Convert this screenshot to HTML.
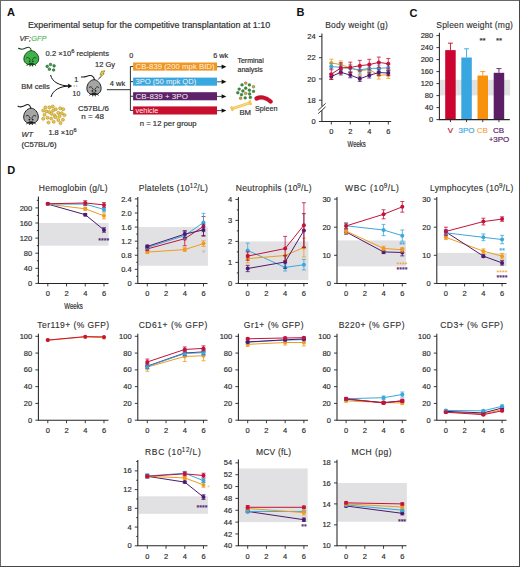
<!DOCTYPE html>
<html><head><meta charset="utf-8"><style>
html,body{margin:0;padding:0;background:#fff;width:520px;height:567px;overflow:hidden}
svg{display:block;font-family:"Liberation Sans",sans-serif}
</style></head><body>
<svg width="520" height="567" viewBox="0 0 520 567" font-family="Liberation Sans, sans-serif">
<rect x="0" y="0" width="520" height="567" fill="#fff"/>
<text x="7.00" y="16.30" font-size="11.0" fill="#111" font-weight="bold"  xml:space="preserve">A</text>
<text x="296.50" y="16.40" font-size="11.0" fill="#111" font-weight="bold"  xml:space="preserve">B</text>
<text x="409.60" y="16.50" font-size="11.0" fill="#111" font-weight="bold"  xml:space="preserve">C</text>
<text x="7.20" y="174.30" font-size="11.0" fill="#111" font-weight="bold"  xml:space="preserve">D</text>
<text x="27.90" y="28.40" font-size="8.9" fill="#2e2e2e" stroke="#2e2e2e" stroke-width="0.18" textLength="242.30" lengthAdjust="spacingAndGlyphs"  xml:space="preserve">Experimental setup for the competitive transplantation at 1:10</text>
<text x="19.40" y="40.70" font-size="7.6" fill="#2e2e2e" stroke="#2e2e2e" stroke-width="0.18" textLength="11.60" lengthAdjust="spacingAndGlyphs" font-style="italic"  xml:space="preserve">VF;</text>
<text x="31.20" y="40.70" font-size="7.6" fill="#5cb85c" stroke="#5cb85c" stroke-width="0.18" textLength="15.20" lengthAdjust="spacingAndGlyphs" font-style="italic"  xml:space="preserve">GFP</text>
<g transform="translate(31.3,57.8)">
<path d="M-12.8,-9.5 C-10,-8 -7.5,-8.5 -5,-10 C-2.5,-11 -0.5,-10.5 0,-7" fill="none" stroke="#15451a" stroke-width="1.05" stroke-linecap="round"/>
<path d="M0,-7.1 C3.7,-7.1 7.4,-3.195 7.4,1.065 C7.4,4.97 4.44,7.1 0,7.1 C-4.44,7.1 -7.4,4.97 -7.4,1.065 C-7.4,-3.195 -3.7,-7.1 0,-7.1Z" fill="#3fb34a" stroke="#15451a" stroke-width="1"/>
<path d="M-5.18,0.355 q2.59,-2.13 4.44,2.13 M5.18,0.355 q-2.59,-2.13 -4.44,2.13" stroke="#15451a" stroke-width="1.0" fill="none" opacity="0.85"/>
<ellipse cx="0" cy="6.034999999999999" rx="2.59" ry="1.0" fill="#15451a"/>
<circle cx="-1.6280000000000001" cy="3.55" r="0.9" fill="#15451a"/><circle cx="1.6280000000000001" cy="3.55" r="0.9" fill="#15451a"/>
<path d="M-3.33,6.39 l-1.2,1.6 M-1.11,7.1 l-0.3,1.6 M1.11,7.1 l0.3,1.6 M3.33,6.39 l1.2,1.6 M-2.9600000000000004,6.532 H2.9600000000000004" stroke="#15451a" stroke-width="1" fill="none"/>
</g>
<circle cx="50.5" cy="64.5" r="1.3" fill="#3f9f4a" stroke="#1c5a24" stroke-width="0.6"/>
<circle cx="47.2" cy="66.4" r="1.3" fill="#3f9f4a" stroke="#1c5a24" stroke-width="0.6"/>
<circle cx="54.1" cy="65.9" r="1.3" fill="#3f9f4a" stroke="#1c5a24" stroke-width="0.6"/>
<circle cx="49.4" cy="69.2" r="1.3" fill="#3f9f4a" stroke="#1c5a24" stroke-width="0.6"/>
<circle cx="53.6" cy="70.0" r="1.3" fill="#3f9f4a" stroke="#1c5a24" stroke-width="0.6"/>
<text x="45.60" y="55.60" font-size="7.6" fill="#2e2e2e" stroke="#2e2e2e" stroke-width="0.18" textLength="25.59" lengthAdjust="spacingAndGlyphs"  xml:space="preserve">0.2 ×10</text>
<text x="71.19" y="53.09" font-size="5.62" fill="#2e2e2e" stroke="#2e2e2e" stroke-width="0.18" textLength="3.13" lengthAdjust="spacingAndGlyphs"  xml:space="preserve">6</text>
<text x="74.33" y="55.60" font-size="7.6" fill="#2e2e2e" stroke="#2e2e2e" stroke-width="0.18" textLength="34.67" lengthAdjust="spacingAndGlyphs"  xml:space="preserve"> recipients</text>
<text x="21.20" y="89.20" font-size="7.6" fill="#2e2e2e" stroke="#2e2e2e" stroke-width="0.18" textLength="28.60" lengthAdjust="spacingAndGlyphs"  xml:space="preserve">BM cells</text>
<path d="M50.6,75 C52,82 60,86 69.5,86 M51,97 C53,90 60,86.2 69.5,86" fill="none" stroke="#111" stroke-width="1"/>
<path d="M72.2,86 L67.8,83.6 L68.6,86 L67.8,88.4Z" fill="#111"/>
<text x="76.30" y="82.30" font-size="7.2" fill="#2e2e2e" stroke="#2e2e2e" stroke-width="0.18" text-anchor="middle"  xml:space="preserve">1</text>
<path d="M73.5,86H78.5" stroke="#666" stroke-width="0.8" stroke-dasharray="1.3,1.2"/>
<text x="76.40" y="95.80" font-size="7.2" fill="#2e2e2e" stroke="#2e2e2e" stroke-width="0.18" text-anchor="middle" textLength="7.60" lengthAdjust="spacingAndGlyphs"  xml:space="preserve">10</text>
<g transform="translate(94.0,87.2)">
<path d="M-12.6,-10.3 C-10,-9.5 -7.5,-11 -4.5,-11.7 C-2,-12 -0.2,-10.5 0.5,-7.5" fill="none" stroke="#1e1e1e" stroke-width="1.05" stroke-linecap="round"/>
<path d="M0,-7.5 C3.55,-7.5 7.1,-3.375 7.1,1.125 C7.1,5.25 4.26,7.5 0,7.5 C-4.26,7.5 -7.1,5.25 -7.1,1.125 C-7.1,-3.375 -3.55,-7.5 0,-7.5Z" fill="#a6a6a6" stroke="#1e1e1e" stroke-width="1"/>
<path d="M-4.97,0.375 q2.485,-2.25 4.26,2.25 M4.97,0.375 q-2.485,-2.25 -4.26,2.25" stroke="#1e1e1e" stroke-width="1.0" fill="none" opacity="0.85"/>
<ellipse cx="0" cy="6.375" rx="2.485" ry="1.0" fill="#1e1e1e"/>
<circle cx="-1.5619999999999998" cy="3.75" r="0.9" fill="#1e1e1e"/><circle cx="1.5619999999999998" cy="3.75" r="0.9" fill="#1e1e1e"/>
<path d="M-3.195,6.75 l-1.2,1.6 M-1.065,7.5 l-0.3,1.6 M1.065,7.5 l0.3,1.6 M3.195,6.75 l1.2,1.6 M-2.84,6.9 H2.84" stroke="#1e1e1e" stroke-width="1" fill="none"/>
</g>
<text x="95.00" y="66.90" font-size="7.6" fill="#2e2e2e" stroke="#2e2e2e" stroke-width="0.18" textLength="20.00" lengthAdjust="spacingAndGlyphs"  xml:space="preserve">12 Gy</text>
<path d="M101.5,71.2 L105,70.8 L103,73.6 L104.3,73.6 L100.2,77.6 L101.4,74.8 L100,74.8Z" fill="#e6cb4a" stroke="#6a5a10" stroke-width="0.5"/>
<path d="M100.6,76.8 L98.2,79.6" stroke="#333" stroke-width="0.9"/>
<g transform="translate(31.0,115.8)">
<path d="M-13,-9.5 C-10,-8 -7,-9.5 -4.5,-11 C-2.5,-12 -0.8,-10.5 0,-7.5" fill="none" stroke="#1e1e1e" stroke-width="1.05" stroke-linecap="round"/>
<path d="M0,-7.6 C3.65,-7.6 7.3,-3.42 7.3,1.14 C7.3,5.319999999999999 4.38,7.6 0,7.6 C-4.38,7.6 -7.3,5.319999999999999 -7.3,1.14 C-7.3,-3.42 -3.65,-7.6 0,-7.6Z" fill="#a6a6a6" stroke="#1e1e1e" stroke-width="1"/>
<path d="M-5.109999999999999,0.38 q2.5549999999999997,-2.28 4.38,2.28 M5.109999999999999,0.38 q-2.5549999999999997,-2.28 -4.38,2.28" stroke="#1e1e1e" stroke-width="1.0" fill="none" opacity="0.85"/>
<ellipse cx="0" cy="6.46" rx="2.5549999999999997" ry="1.0" fill="#1e1e1e"/>
<circle cx="-1.6059999999999999" cy="3.8" r="0.9" fill="#1e1e1e"/><circle cx="1.6059999999999999" cy="3.8" r="0.9" fill="#1e1e1e"/>
<path d="M-3.285,6.84 l-1.2,1.6 M-1.095,7.6 l-0.3,1.6 M1.095,7.6 l0.3,1.6 M3.285,6.84 l1.2,1.6 M-2.92,6.992 H2.92" stroke="#1e1e1e" stroke-width="1" fill="none"/>
</g>
<circle cx="45.4" cy="107.4" r="1.55" fill="#ebc84c" stroke="#a88a22" stroke-width="0.55"/>
<circle cx="49.4" cy="107.4" r="1.55" fill="#ebc84c" stroke="#a88a22" stroke-width="0.55"/>
<circle cx="52.8" cy="106.5" r="1.55" fill="#ebc84c" stroke="#a88a22" stroke-width="0.55"/>
<circle cx="55.8" cy="109.2" r="1.55" fill="#ebc84c" stroke="#a88a22" stroke-width="0.55"/>
<circle cx="60.2" cy="108.3" r="1.55" fill="#ebc84c" stroke="#a88a22" stroke-width="0.55"/>
<circle cx="63.2" cy="109.2" r="1.55" fill="#ebc84c" stroke="#a88a22" stroke-width="0.55"/>
<circle cx="43.2" cy="110.5" r="1.55" fill="#ebc84c" stroke="#a88a22" stroke-width="0.55"/>
<circle cx="46.6" cy="111.4" r="1.55" fill="#ebc84c" stroke="#a88a22" stroke-width="0.55"/>
<circle cx="49.4" cy="112" r="1.55" fill="#ebc84c" stroke="#a88a22" stroke-width="0.55"/>
<circle cx="53.1" cy="110.5" r="1.55" fill="#ebc84c" stroke="#a88a22" stroke-width="0.55"/>
<circle cx="51.5" cy="113.8" r="1.55" fill="#ebc84c" stroke="#a88a22" stroke-width="0.55"/>
<circle cx="58.3" cy="112.9" r="1.55" fill="#ebc84c" stroke="#a88a22" stroke-width="0.55"/>
<circle cx="61.7" cy="113.2" r="1.55" fill="#ebc84c" stroke="#a88a22" stroke-width="0.55"/>
<circle cx="64.5" cy="115.1" r="1.55" fill="#ebc84c" stroke="#a88a22" stroke-width="0.55"/>
<circle cx="44.5" cy="114.8" r="1.55" fill="#ebc84c" stroke="#a88a22" stroke-width="0.55"/>
<circle cx="54.6" cy="115.4" r="1.55" fill="#ebc84c" stroke="#a88a22" stroke-width="0.55"/>
<circle cx="59.5" cy="116.3" r="1.55" fill="#ebc84c" stroke="#a88a22" stroke-width="0.55"/>
<circle cx="47.5" cy="117.8" r="1.55" fill="#ebc84c" stroke="#a88a22" stroke-width="0.55"/>
<circle cx="51.2" cy="118.5" r="1.55" fill="#ebc84c" stroke="#a88a22" stroke-width="0.55"/>
<circle cx="55.5" cy="117.2" r="1.55" fill="#ebc84c" stroke="#a88a22" stroke-width="0.55"/>
<circle cx="43.2" cy="118.8" r="1.55" fill="#ebc84c" stroke="#a88a22" stroke-width="0.55"/>
<circle cx="58.3" cy="120" r="1.55" fill="#ebc84c" stroke="#a88a22" stroke-width="0.55"/>
<circle cx="62.9" cy="119.7" r="1.55" fill="#ebc84c" stroke="#a88a22" stroke-width="0.55"/>
<circle cx="48.5" cy="122.5" r="1.55" fill="#ebc84c" stroke="#a88a22" stroke-width="0.55"/>
<circle cx="53.7" cy="121.8" r="1.55" fill="#ebc84c" stroke="#a88a22" stroke-width="0.55"/>
<circle cx="60.5" cy="123.1" r="1.55" fill="#ebc84c" stroke="#a88a22" stroke-width="0.55"/>
<text x="48.40" y="134.90" font-size="7.6" fill="#2e2e2e" stroke="#2e2e2e" stroke-width="0.18" textLength="25.13" lengthAdjust="spacingAndGlyphs"  xml:space="preserve">1.8 ×10</text>
<text x="73.53" y="132.39" font-size="5.62" fill="#2e2e2e" stroke="#2e2e2e" stroke-width="0.18" textLength="3.07" lengthAdjust="spacingAndGlyphs"  xml:space="preserve">6</text>
<text x="21.40" y="136.50" font-size="7.6" fill="#2e2e2e" stroke="#2e2e2e" stroke-width="0.18" textLength="11.60" lengthAdjust="spacingAndGlyphs" font-style="italic"  xml:space="preserve">WT</text>
<text x="21.40" y="146.60" font-size="7.6" fill="#2e2e2e" stroke="#2e2e2e" stroke-width="0.18" textLength="35.20" lengthAdjust="spacingAndGlyphs"  xml:space="preserve">(C57BL/6)</text>
<text x="78.00" y="111.00" font-size="7.6" fill="#2e2e2e" stroke="#2e2e2e" stroke-width="0.18" textLength="30.80" lengthAdjust="spacingAndGlyphs"  xml:space="preserve">C57BL/6</text>
<text x="81.30" y="119.30" font-size="7.6" fill="#2e2e2e" stroke="#2e2e2e" stroke-width="0.18" textLength="22.60" lengthAdjust="spacingAndGlyphs"  xml:space="preserve">n = 48</text>
<text x="109.80" y="85.60" font-size="7.6" fill="#2e2e2e" stroke="#2e2e2e" stroke-width="0.18" textLength="15.40" lengthAdjust="spacingAndGlyphs"  xml:space="preserve">4 wk</text>
<path d="M106.9,89.7H130.4M130.4,66.5V110.7" stroke="#333" stroke-width="1" fill="none"/>
<text x="131.30" y="58.20" font-size="7.2" fill="#2e2e2e" stroke="#2e2e2e" stroke-width="0.18" text-anchor="middle"  xml:space="preserve">0</text>
<text x="213.20" y="58.20" font-size="7.6" fill="#2e2e2e" stroke="#2e2e2e" stroke-width="0.18" textLength="15.00" lengthAdjust="spacingAndGlyphs"  xml:space="preserve">6 wk</text>
<rect x="133.1" y="62.5" width="83.9" height="8.1" fill="#f0961e"/>
<path d="M130.4,66.55H133.1" stroke="#333" stroke-width="1"/>
<text x="135.60" y="69.10" font-size="7.6" fill="#fbf3ee" textLength="79.00" lengthAdjust="spacingAndGlyphs"  xml:space="preserve">CB-839 (200 mpk BID)</text>
<path d="M217,66.7H222.5" stroke="#333" stroke-width="0.9"/>
<path d="M226.4,66.7 L221.6,64.5 L221.6,68.9Z" fill="#111"/>
<rect x="133.1" y="77.6" width="83.9" height="8.1" fill="#3aa8e0"/>
<path d="M130.4,81.64999999999999H133.1" stroke="#333" stroke-width="1"/>
<text x="135.60" y="84.20" font-size="7.6" fill="#fbf3ee" textLength="60.60" lengthAdjust="spacingAndGlyphs"  xml:space="preserve">3PO (50 mpk QD)</text>
<path d="M217,81.8H222.5" stroke="#333" stroke-width="0.9"/>
<path d="M226.4,81.8 L221.6,79.6 L221.6,84.0Z" fill="#111"/>
<rect x="133.1" y="92.2" width="83.9" height="8.1" fill="#5d226a"/>
<path d="M130.4,96.25H133.1" stroke="#333" stroke-width="1"/>
<text x="135.60" y="98.80" font-size="7.6" fill="#fbf3ee" textLength="52.30" lengthAdjust="spacingAndGlyphs"  xml:space="preserve">CB-839 + 3PO</text>
<path d="M217,96.4H222.5" stroke="#333" stroke-width="0.9"/>
<path d="M226.4,96.4 L221.6,94.2 L221.6,98.60000000000001Z" fill="#111"/>
<rect x="133.1" y="106.4" width="83.9" height="8.1" fill="#c80f2e"/>
<path d="M130.4,110.45H133.1" stroke="#333" stroke-width="1"/>
<text x="135.60" y="113.00" font-size="7.6" fill="#fbf3ee" textLength="22.80" lengthAdjust="spacingAndGlyphs"  xml:space="preserve">vehicle</text>
<path d="M217,110.60000000000001H222.5" stroke="#333" stroke-width="0.9"/>
<path d="M226.4,110.60000000000001 L221.6,108.4 L221.6,112.80000000000001Z" fill="#111"/>
<text x="139.80" y="125.60" font-size="7.6" fill="#2e2e2e" stroke="#2e2e2e" stroke-width="0.18" textLength="56.80" lengthAdjust="spacingAndGlyphs"  xml:space="preserve">n = 12 per group</text>
<text x="237.50" y="62.90" font-size="7.2" fill="#2e2e2e" stroke="#2e2e2e" stroke-width="0.18" textLength="26.30" lengthAdjust="spacingAndGlyphs"  xml:space="preserve">Terminal</text>
<text x="237.50" y="71.90" font-size="7.2" fill="#2e2e2e" stroke="#2e2e2e" stroke-width="0.18" textLength="25.20" lengthAdjust="spacingAndGlyphs"  xml:space="preserve">analysis</text>
<circle cx="245.7" cy="83.1" r="1.45" fill="#d29a48" stroke="#2c5c2c" stroke-width="0.3"/>
<circle cx="242" cy="84.9" r="1.45" fill="#3b8c3b" stroke="#2c5c2c" stroke-width="0.3"/>
<circle cx="249.4" cy="84.9" r="1.45" fill="#3b8c3b" stroke="#2c5c2c" stroke-width="0.3"/>
<circle cx="253.5" cy="86.8" r="1.45" fill="#c9a444" stroke="#2c5c2c" stroke-width="0.3"/>
<circle cx="239.2" cy="89.1" r="1.45" fill="#3b8c3b" stroke="#2c5c2c" stroke-width="0.3"/>
<circle cx="245.7" cy="88.2" r="1.45" fill="#3b8c3b" stroke="#2c5c2c" stroke-width="0.3"/>
<circle cx="249.4" cy="90.2" r="1.45" fill="#3b8c3b" stroke="#2c5c2c" stroke-width="0.3"/>
<circle cx="242.9" cy="91.0" r="1.45" fill="#3b8c3b" stroke="#2c5c2c" stroke-width="0.3"/>
<circle cx="253.5" cy="91.4" r="1.45" fill="#3b8c3b" stroke="#2c5c2c" stroke-width="0.3"/>
<circle cx="237.8" cy="92.8" r="1.45" fill="#3b8c3b" stroke="#2c5c2c" stroke-width="0.3"/>
<circle cx="241.5" cy="94.7" r="1.45" fill="#3b8c3b" stroke="#2c5c2c" stroke-width="0.3"/>
<circle cx="245.7" cy="93.4" r="1.45" fill="#c9a444" stroke="#2c5c2c" stroke-width="0.3"/>
<circle cx="249.6" cy="94.0" r="1.45" fill="#3b8c3b" stroke="#2c5c2c" stroke-width="0.3"/>
<circle cx="240.6" cy="98.3" r="1.45" fill="#d29a48" stroke="#2c5c2c" stroke-width="0.3"/>
<circle cx="245.2" cy="97.9" r="1.45" fill="#3b8c3b" stroke="#2c5c2c" stroke-width="0.3"/>
<circle cx="250.3" cy="97.4" r="1.45" fill="#3b8c3b" stroke="#2c5c2c" stroke-width="0.3"/>
<path d="M232.2,108.6 L250.0,102.8" stroke="#f3c65a" stroke-width="2.8" stroke-linecap="round"/>
<circle cx="231.6" cy="107.6" r="1.4" fill="#f3c65a"/><circle cx="232.4" cy="109.8" r="1.4" fill="#f3c65a"/>
<circle cx="249.8" cy="101.7" r="1.4" fill="#f3c65a"/><circle cx="250.6" cy="103.9" r="1.4" fill="#f3c65a"/>
<path d="M233.5,108.2 L248.8,103.2" stroke="#f8dc90" stroke-width="0.9"/>
<path d="M256.6,98.4 C260,96.6 265.5,96.8 270.6,101.5" stroke="#c8102e" stroke-width="4.3" stroke-linecap="round" fill="none"/>
<path d="M257,100.4 C260.5,99 265.5,99.2 269.8,103" stroke="#9e0a22" stroke-width="0.7" fill="none" opacity="0.5"/>
<text x="239.40" y="115.30" font-size="7.6" fill="#2e2e2e" stroke="#2e2e2e" stroke-width="0.18" textLength="11.60" lengthAdjust="spacingAndGlyphs"  xml:space="preserve">BM</text>
<text x="255.00" y="110.60" font-size="7.6" fill="#2e2e2e" stroke="#2e2e2e" stroke-width="0.18" textLength="22.40" lengthAdjust="spacingAndGlyphs"  xml:space="preserve">Spleen</text>
<path d="M331.30,62.91 L340.80,64.61 L350.30,68.01 L359.80,70.87 L369.30,69.39 L378.80,75.34 L388.30,74.70" fill="none" stroke="#f29a1c" stroke-width="1"/>
<path d="M331.30,66.62 L340.80,67.26 L350.30,68.33 L359.80,69.92 L369.30,68.33 L378.80,68.33 L388.30,67.79" fill="none" stroke="#3aa8dc" stroke-width="1"/>
<path d="M331.30,76.51 L340.80,72.26 L350.30,75.12 L359.80,78.74 L369.30,75.34 L378.80,72.57 L388.30,73.00" fill="none" stroke="#4b1a6e" stroke-width="1"/>
<path d="M331.30,74.17 L340.80,68.01 L350.30,67.48 L359.80,65.67 L369.30,64.61 L378.80,62.38 L388.30,63.76" fill="none" stroke="#c4123a" stroke-width="1"/>
<path d="M331.30,59.19V66.62M329.30,59.19h4M329.30,66.62h4" stroke="#f29a1c" stroke-width="0.8" fill="none"/>
<circle cx="331.30" cy="62.91" r="2" fill="#f29a1c"/>
<path d="M340.80,60.89V68.33M338.80,60.89h4M338.80,68.33h4" stroke="#f29a1c" stroke-width="0.8" fill="none"/>
<circle cx="340.80" cy="64.61" r="2" fill="#f29a1c"/>
<path d="M350.30,64.29V71.73M348.30,64.29h4M348.30,71.73h4" stroke="#f29a1c" stroke-width="0.8" fill="none"/>
<circle cx="350.30" cy="68.01" r="2" fill="#f29a1c"/>
<path d="M359.80,67.16V74.59M357.80,67.16h4M357.80,74.59h4" stroke="#f29a1c" stroke-width="0.8" fill="none"/>
<circle cx="359.80" cy="70.87" r="2" fill="#f29a1c"/>
<path d="M369.30,65.67V73.11M367.30,65.67h4M367.30,73.11h4" stroke="#f29a1c" stroke-width="0.8" fill="none"/>
<circle cx="369.30" cy="69.39" r="2" fill="#f29a1c"/>
<path d="M378.80,71.62V79.06M376.80,71.62h4M376.80,79.06h4" stroke="#f29a1c" stroke-width="0.8" fill="none"/>
<circle cx="378.80" cy="75.34" r="2" fill="#f29a1c"/>
<path d="M388.30,70.98V78.42M386.30,70.98h4M386.30,78.42h4" stroke="#f29a1c" stroke-width="0.8" fill="none"/>
<circle cx="388.30" cy="74.70" r="2" fill="#f29a1c"/>
<path d="M331.30,63.44V69.81M329.30,63.44h4M329.30,69.81h4" stroke="#3aa8dc" stroke-width="0.8" fill="none"/>
<circle cx="331.30" cy="66.62" r="2" fill="#3aa8dc"/>
<path d="M340.80,64.07V70.45M338.80,64.07h4M338.80,70.45h4" stroke="#3aa8dc" stroke-width="0.8" fill="none"/>
<circle cx="340.80" cy="67.26" r="2" fill="#3aa8dc"/>
<path d="M350.30,65.14V71.51M348.30,65.14h4M348.30,71.51h4" stroke="#3aa8dc" stroke-width="0.8" fill="none"/>
<circle cx="350.30" cy="68.33" r="2" fill="#3aa8dc"/>
<path d="M359.80,66.73V73.11M357.80,66.73h4M357.80,73.11h4" stroke="#3aa8dc" stroke-width="0.8" fill="none"/>
<circle cx="359.80" cy="69.92" r="2" fill="#3aa8dc"/>
<path d="M369.30,65.14V71.51M367.30,65.14h4M367.30,71.51h4" stroke="#3aa8dc" stroke-width="0.8" fill="none"/>
<circle cx="369.30" cy="68.33" r="2" fill="#3aa8dc"/>
<path d="M378.80,65.14V71.51M376.80,65.14h4M376.80,71.51h4" stroke="#3aa8dc" stroke-width="0.8" fill="none"/>
<circle cx="378.80" cy="68.33" r="2" fill="#3aa8dc"/>
<path d="M388.30,64.61V70.98M386.30,64.61h4M386.30,70.98h4" stroke="#3aa8dc" stroke-width="0.8" fill="none"/>
<circle cx="388.30" cy="67.79" r="2" fill="#3aa8dc"/>
<path d="M331.30,73.85V79.16M329.30,73.85h4M329.30,79.16h4" stroke="#4b1a6e" stroke-width="0.8" fill="none"/>
<circle cx="331.30" cy="76.51" r="2" fill="#4b1a6e"/>
<path d="M340.80,69.60V74.91M338.80,69.60h4M338.80,74.91h4" stroke="#4b1a6e" stroke-width="0.8" fill="none"/>
<circle cx="340.80" cy="72.26" r="2" fill="#4b1a6e"/>
<path d="M350.30,72.47V77.78M348.30,72.47h4M348.30,77.78h4" stroke="#4b1a6e" stroke-width="0.8" fill="none"/>
<circle cx="350.30" cy="75.12" r="2" fill="#4b1a6e"/>
<path d="M359.80,76.08V81.39M357.80,76.08h4M357.80,81.39h4" stroke="#4b1a6e" stroke-width="0.8" fill="none"/>
<circle cx="359.80" cy="78.74" r="2" fill="#4b1a6e"/>
<path d="M369.30,72.68V77.99M367.30,72.68h4M367.30,77.99h4" stroke="#4b1a6e" stroke-width="0.8" fill="none"/>
<circle cx="369.30" cy="75.34" r="2" fill="#4b1a6e"/>
<path d="M378.80,69.92V75.23M376.80,69.92h4M376.80,75.23h4" stroke="#4b1a6e" stroke-width="0.8" fill="none"/>
<circle cx="378.80" cy="72.57" r="2" fill="#4b1a6e"/>
<path d="M388.30,70.34V75.66M386.30,70.34h4M386.30,75.66h4" stroke="#4b1a6e" stroke-width="0.8" fill="none"/>
<circle cx="388.30" cy="73.00" r="2" fill="#4b1a6e"/>
<path d="M331.30,68.86V79.48M329.30,68.86h4M329.30,79.48h4" stroke="#c4123a" stroke-width="0.8" fill="none"/>
<circle cx="331.30" cy="74.17" r="2" fill="#c4123a"/>
<path d="M340.80,62.69V73.32M338.80,62.69h4M338.80,73.32h4" stroke="#c4123a" stroke-width="0.8" fill="none"/>
<circle cx="340.80" cy="68.01" r="2" fill="#c4123a"/>
<path d="M350.30,62.16V72.79M348.30,62.16h4M348.30,72.79h4" stroke="#c4123a" stroke-width="0.8" fill="none"/>
<circle cx="350.30" cy="67.48" r="2" fill="#c4123a"/>
<path d="M359.80,60.36V70.98M357.80,60.36h4M357.80,70.98h4" stroke="#c4123a" stroke-width="0.8" fill="none"/>
<circle cx="359.80" cy="65.67" r="2" fill="#c4123a"/>
<path d="M369.30,59.29V69.92M367.30,59.29h4M367.30,69.92h4" stroke="#c4123a" stroke-width="0.8" fill="none"/>
<circle cx="369.30" cy="64.61" r="2" fill="#c4123a"/>
<path d="M378.80,57.06V67.69M376.80,57.06h4M376.80,67.69h4" stroke="#c4123a" stroke-width="0.8" fill="none"/>
<circle cx="378.80" cy="62.38" r="2" fill="#c4123a"/>
<path d="M388.30,58.44V69.07M386.30,58.44h4M386.30,69.07h4" stroke="#c4123a" stroke-width="0.8" fill="none"/>
<circle cx="388.30" cy="63.76" r="2" fill="#c4123a"/>
<path d="M321.9,33.5V106.5M321.9,110.3V121.5H391.2" fill="none" stroke="#262626" stroke-width="1.05"/>
<path d="M318.2,110.2L325.6,103.4M318.2,113.6L325.6,106.8" stroke="#262626" stroke-width="0.9" fill="none"/>
<text x="315.70" y="102.80" font-size="7.5" fill="#2e2e2e" stroke="#2e2e2e" stroke-width="0.18" text-anchor="end"  xml:space="preserve">18</text>
<text x="315.70" y="81.55" font-size="7.5" fill="#2e2e2e" stroke="#2e2e2e" stroke-width="0.18" text-anchor="end"  xml:space="preserve">20</text>
<text x="315.70" y="60.30" font-size="7.5" fill="#2e2e2e" stroke="#2e2e2e" stroke-width="0.18" text-anchor="end"  xml:space="preserve">22</text>
<text x="315.70" y="39.05" font-size="7.5" fill="#2e2e2e" stroke="#2e2e2e" stroke-width="0.18" text-anchor="end"  xml:space="preserve">24</text>
<text x="315.70" y="124.10" font-size="7.5" fill="#2e2e2e" stroke="#2e2e2e" stroke-width="0.18" text-anchor="end"  xml:space="preserve">0</text>
<text x="331.30" y="134.40" font-size="7.5" fill="#2e2e2e" stroke="#2e2e2e" stroke-width="0.18" text-anchor="middle"  xml:space="preserve">0</text>
<text x="350.30" y="134.40" font-size="7.5" fill="#2e2e2e" stroke="#2e2e2e" stroke-width="0.18" text-anchor="middle"  xml:space="preserve">2</text>
<text x="369.30" y="134.40" font-size="7.5" fill="#2e2e2e" stroke="#2e2e2e" stroke-width="0.18" text-anchor="middle"  xml:space="preserve">4</text>
<text x="388.30" y="134.40" font-size="7.5" fill="#2e2e2e" stroke="#2e2e2e" stroke-width="0.18" text-anchor="middle"  xml:space="preserve">6</text>
<path d="M318.9,100.20H321.9M318.9,78.95H321.9M318.9,57.70H321.9M318.9,36.45H321.9M318.9,121.5H321.9M331.30,121.5v3M350.30,121.5v3M369.30,121.5v3M388.30,121.5v3" stroke="#262626" stroke-width="0.9" fill="none"/>
<text x="325.20" y="28.10" font-size="8.5" fill="#2e2e2e" stroke="#2e2e2e" stroke-width="0.12" textLength="62.60" lengthAdjust="spacing"  xml:space="preserve">Body weight (g)</text>
<text x="347.60" y="146.60" font-size="8.4" fill="#2e2e2e" stroke="#2e2e2e" stroke-width="0.18" textLength="18.20" lengthAdjust="spacingAndGlyphs"  xml:space="preserve">Weeks</text>
<rect x="439.9" y="79.8" width="70.2" height="15.6" fill="#e1e1e3"/>
<rect x="445.2" y="50.12" width="10.5" height="69.48" fill="#cc0530"/>
<path d="M450.45,50.12V43.16M447.95,43.16h5" stroke="#cc0530" stroke-width="0.9" fill="none"/>
<rect x="461.3" y="57.50" width="10.5" height="62.10" fill="#38a6e0"/>
<path d="M466.55,57.50V48.80M464.05,48.80h5" stroke="#38a6e0" stroke-width="0.9" fill="none"/>
<rect x="477.5" y="75.50" width="10.5" height="44.10" fill="#f8920c"/>
<path d="M482.75,75.50V71.60M480.25,71.60h5" stroke="#f8920c" stroke-width="0.9" fill="none"/>
<rect x="493.7" y="72.80" width="10.5" height="46.80" fill="#5c1f66"/>
<path d="M498.95,72.80V68.60M496.45,68.60h5" stroke="#5c1f66" stroke-width="0.9" fill="none"/>
<path d="M439.4,32.7V119.6H509.8" fill="none" stroke="#262626" stroke-width="1.05"/>
<text x="433.20" y="122.20" font-size="7.5" fill="#2e2e2e" stroke="#2e2e2e" stroke-width="0.18" text-anchor="end"  xml:space="preserve">0</text>
<text x="433.20" y="110.20" font-size="7.5" fill="#2e2e2e" stroke="#2e2e2e" stroke-width="0.18" text-anchor="end"  xml:space="preserve">40</text>
<text x="433.20" y="98.20" font-size="7.5" fill="#2e2e2e" stroke="#2e2e2e" stroke-width="0.18" text-anchor="end"  xml:space="preserve">80</text>
<text x="433.20" y="86.20" font-size="7.5" fill="#2e2e2e" stroke="#2e2e2e" stroke-width="0.18" text-anchor="end"  xml:space="preserve">120</text>
<text x="433.20" y="74.20" font-size="7.5" fill="#2e2e2e" stroke="#2e2e2e" stroke-width="0.18" text-anchor="end"  xml:space="preserve">160</text>
<text x="433.20" y="62.20" font-size="7.5" fill="#2e2e2e" stroke="#2e2e2e" stroke-width="0.18" text-anchor="end"  xml:space="preserve">200</text>
<text x="433.20" y="50.20" font-size="7.5" fill="#2e2e2e" stroke="#2e2e2e" stroke-width="0.18" text-anchor="end"  xml:space="preserve">240</text>
<text x="433.20" y="38.20" font-size="7.5" fill="#2e2e2e" stroke="#2e2e2e" stroke-width="0.18" text-anchor="end"  xml:space="preserve">280</text>
<path d="M436.4,119.60H439.4M436.4,107.60H439.4M436.4,95.60H439.4M436.4,83.60H439.4M436.4,71.60H439.4M436.4,59.60H439.4M436.4,47.60H439.4M436.4,35.60H439.4M450.45,119.6v2.5M466.55,119.6v2.5M482.75,119.6v2.5M498.95,119.6v2.5" stroke="#262626" stroke-width="0.9" fill="none"/>
<text x="436.30" y="27.70" font-size="8.5" fill="#2e2e2e" stroke="#2e2e2e" stroke-width="0.12" textLength="76.60" lengthAdjust="spacing"  xml:space="preserve">Spleen weight (mg)</text>
<text x="450.30" y="133.00" font-size="8.0" fill="#c0102a" stroke="#c0102a" stroke-width="0.18" text-anchor="middle"  xml:space="preserve">V</text>
<text x="466.60" y="133.00" font-size="8.0" fill="#3ba8e0" stroke="#3ba8e0" stroke-width="0.18" text-anchor="middle"  xml:space="preserve">3PO</text>
<text x="482.40" y="133.00" font-size="8.0" fill="#f39a1e" text-anchor="middle"  xml:space="preserve">CB</text>
<text x="498.50" y="133.00" font-size="8.0" fill="#5d226a" stroke="#5d226a" stroke-width="0.18" text-anchor="middle"  xml:space="preserve">CB</text>
<text x="499.00" y="142.00" font-size="8.0" fill="#5d226a" stroke="#5d226a" stroke-width="0.18" text-anchor="middle"  xml:space="preserve">+3PO</text>
<text x="482.50" y="42.50" font-size="8" fill="#2e2e2e" stroke="#2e2e2e" stroke-width="0.18" text-anchor="middle"  xml:space="preserve">**</text>
<text x="499.00" y="42.50" font-size="8" fill="#2e2e2e" stroke="#2e2e2e" stroke-width="0.18" text-anchor="middle"  xml:space="preserve">**</text>
<rect x="38.90" y="223.00" width="69.70" height="22.65" fill="#e1e1e3"/>
<path d="M47.80,204.12 L85.26,214.69 L103.99,229.98" fill="none" stroke="#4b1a6e" stroke-width="1"/>
<path d="M47.80,204.12 L85.26,208.84 L103.99,215.83" fill="none" stroke="#f29a1c" stroke-width="1"/>
<path d="M47.80,204.12 L85.26,204.12 L103.99,209.41" fill="none" stroke="#3aa8dc" stroke-width="1"/>
<path d="M47.80,203.75 L85.26,202.99 L103.99,204.88" fill="none" stroke="#c4123a" stroke-width="1"/>
<circle cx="47.80" cy="204.12" r="2" fill="#4b1a6e"/>
<path d="M85.26,213.56V215.83M83.26,213.56h4M83.26,215.83h4" stroke="#4b1a6e" stroke-width="0.8" fill="none"/>
<circle cx="85.26" cy="214.69" r="2" fill="#4b1a6e"/>
<path d="M103.99,227.72V232.25M101.99,227.72h4M101.99,232.25h4" stroke="#4b1a6e" stroke-width="0.8" fill="none"/>
<circle cx="103.99" cy="229.98" r="2" fill="#4b1a6e"/>
<circle cx="47.80" cy="204.12" r="2" fill="#f29a1c"/>
<path d="M85.26,207.33V210.35M83.26,207.33h4M83.26,210.35h4" stroke="#f29a1c" stroke-width="0.8" fill="none"/>
<circle cx="85.26" cy="208.84" r="2" fill="#f29a1c"/>
<path d="M103.99,212.81V218.85M101.99,212.81h4M101.99,218.85h4" stroke="#f29a1c" stroke-width="0.8" fill="none"/>
<circle cx="103.99" cy="215.83" r="2" fill="#f29a1c"/>
<circle cx="47.80" cy="204.12" r="2" fill="#3aa8dc"/>
<path d="M85.26,202.61V205.63M83.26,202.61h4M83.26,205.63h4" stroke="#3aa8dc" stroke-width="0.8" fill="none"/>
<circle cx="85.26" cy="204.12" r="2" fill="#3aa8dc"/>
<path d="M103.99,207.52V211.30M101.99,207.52h4M101.99,211.30h4" stroke="#3aa8dc" stroke-width="0.8" fill="none"/>
<circle cx="103.99" cy="209.41" r="2" fill="#3aa8dc"/>
<path d="M47.80,202.99V204.50M45.80,202.99h4M45.80,204.50h4" stroke="#c4123a" stroke-width="0.8" fill="none"/>
<circle cx="47.80" cy="203.75" r="2" fill="#c4123a"/>
<path d="M85.26,200.73V205.26M83.26,200.73h4M83.26,205.26h4" stroke="#c4123a" stroke-width="0.8" fill="none"/>
<circle cx="85.26" cy="202.99" r="2" fill="#c4123a"/>
<path d="M103.99,202.61V207.14M101.99,202.61h4M101.99,207.14h4" stroke="#c4123a" stroke-width="0.8" fill="none"/>
<circle cx="103.99" cy="204.88" r="2" fill="#c4123a"/>
<path d="M38.40,196.60V283.40H108.50" fill="none" stroke="#262626" stroke-width="1.05"/>
<text x="32.20" y="286.00" font-size="7.5" fill="#2e2e2e" stroke="#2e2e2e" stroke-width="0.18" text-anchor="end"  xml:space="preserve">0</text>
<text x="32.20" y="270.90" font-size="7.5" fill="#2e2e2e" stroke="#2e2e2e" stroke-width="0.18" text-anchor="end"  xml:space="preserve">40</text>
<text x="32.20" y="255.80" font-size="7.5" fill="#2e2e2e" stroke="#2e2e2e" stroke-width="0.18" text-anchor="end"  xml:space="preserve">80</text>
<text x="32.20" y="240.70" font-size="7.5" fill="#2e2e2e" stroke="#2e2e2e" stroke-width="0.18" text-anchor="end"  xml:space="preserve">120</text>
<text x="32.20" y="225.60" font-size="7.5" fill="#2e2e2e" stroke="#2e2e2e" stroke-width="0.18" text-anchor="end"  xml:space="preserve">160</text>
<text x="32.20" y="210.50" font-size="7.5" fill="#2e2e2e" stroke="#2e2e2e" stroke-width="0.18" text-anchor="end"  xml:space="preserve">200</text>
<text x="47.80" y="296.30" font-size="7.5" fill="#2e2e2e" stroke="#2e2e2e" stroke-width="0.18" text-anchor="middle"  xml:space="preserve">0</text>
<text x="66.53" y="296.30" font-size="7.5" fill="#2e2e2e" stroke="#2e2e2e" stroke-width="0.18" text-anchor="middle"  xml:space="preserve">2</text>
<text x="85.26" y="296.30" font-size="7.5" fill="#2e2e2e" stroke="#2e2e2e" stroke-width="0.18" text-anchor="middle"  xml:space="preserve">4</text>
<text x="103.99" y="296.30" font-size="7.5" fill="#2e2e2e" stroke="#2e2e2e" stroke-width="0.18" text-anchor="middle"  xml:space="preserve">6</text>
<path d="M35.40,283.40H38.4M35.40,268.30H38.4M35.40,253.20H38.4M35.40,238.10H38.4M35.40,223.00H38.4M35.40,207.90H38.4M36.80,275.85H38.4M36.80,260.75H38.4M36.80,245.65H38.4M36.80,230.55H38.4M36.80,215.45H38.4M36.80,200.35H38.4M47.80,283.40v3M66.53,283.40v3M85.26,283.40v3M103.99,283.40v3" stroke="#262626" stroke-width="0.9" fill="none"/>
<text x="38.80" y="191.00" font-size="8.5" fill="#2e2e2e" stroke="#2e2e2e" stroke-width="0.12" textLength="68.80" lengthAdjust="spacing"  xml:space="preserve">Hemoglobin (g/L)</text>
<text x="103.80" y="242.60" font-size="7" fill="#4b1a6e" stroke="#4b1a6e" stroke-width="0.18" text-anchor="middle"  xml:space="preserve">****</text>
<rect x="138.30" y="227.08" width="69.60" height="38.72" fill="#e1e1e3"/>
<path d="M147.30,252.07 L184.76,249.61 L203.49,243.62" fill="none" stroke="#f29a1c" stroke-width="1"/>
<path d="M147.30,248.90 L184.76,238.70 L203.49,226.38" fill="none" stroke="#c4123a" stroke-width="1"/>
<path d="M147.30,247.50 L184.76,235.53 L203.49,222.50" fill="none" stroke="#3aa8dc" stroke-width="1"/>
<path d="M147.30,246.44 L184.76,234.12 L203.49,229.90" fill="none" stroke="#4b1a6e" stroke-width="1"/>
<path d="M147.30,250.66V253.48M145.30,250.66h4M145.30,253.48h4" stroke="#f29a1c" stroke-width="0.8" fill="none"/>
<circle cx="147.30" cy="252.07" r="2" fill="#f29a1c"/>
<path d="M184.76,247.85V251.37M182.76,247.85h4M182.76,251.37h4" stroke="#f29a1c" stroke-width="0.8" fill="none"/>
<circle cx="184.76" cy="249.61" r="2" fill="#f29a1c"/>
<path d="M203.49,240.81V246.44M201.49,240.81h4M201.49,246.44h4" stroke="#f29a1c" stroke-width="0.8" fill="none"/>
<circle cx="203.49" cy="243.62" r="2" fill="#f29a1c"/>
<path d="M147.30,247.14V250.66M145.30,247.14h4M145.30,250.66h4" stroke="#c4123a" stroke-width="0.8" fill="none"/>
<circle cx="147.30" cy="248.90" r="2" fill="#c4123a"/>
<path d="M184.76,231.66V245.74M182.76,231.66h4M182.76,245.74h4" stroke="#c4123a" stroke-width="0.8" fill="none"/>
<circle cx="184.76" cy="238.70" r="2" fill="#c4123a"/>
<path d="M203.49,216.52V236.23M201.49,216.52h4M201.49,236.23h4" stroke="#c4123a" stroke-width="0.8" fill="none"/>
<circle cx="203.49" cy="226.38" r="2" fill="#c4123a"/>
<path d="M147.30,246.09V248.90M145.30,246.09h4M145.30,248.90h4" stroke="#3aa8dc" stroke-width="0.8" fill="none"/>
<circle cx="147.30" cy="247.50" r="2" fill="#3aa8dc"/>
<path d="M184.76,232.01V239.05M182.76,232.01h4M182.76,239.05h4" stroke="#3aa8dc" stroke-width="0.8" fill="none"/>
<circle cx="184.76" cy="235.53" r="2" fill="#3aa8dc"/>
<path d="M203.49,213.35V231.66M201.49,213.35h4M201.49,231.66h4" stroke="#3aa8dc" stroke-width="0.8" fill="none"/>
<circle cx="203.49" cy="222.50" r="2" fill="#3aa8dc"/>
<path d="M147.30,245.03V247.85M145.30,245.03h4M145.30,247.85h4" stroke="#4b1a6e" stroke-width="0.8" fill="none"/>
<circle cx="147.30" cy="246.44" r="2" fill="#4b1a6e"/>
<path d="M184.76,230.60V237.64M182.76,230.60h4M182.76,237.64h4" stroke="#4b1a6e" stroke-width="0.8" fill="none"/>
<circle cx="184.76" cy="234.12" r="2" fill="#4b1a6e"/>
<path d="M203.49,224.26V235.53M201.49,224.26h4M201.49,235.53h4" stroke="#4b1a6e" stroke-width="0.8" fill="none"/>
<circle cx="203.49" cy="229.90" r="2" fill="#4b1a6e"/>
<path d="M137.80,197.00V283.40H207.50" fill="none" stroke="#262626" stroke-width="1.05"/>
<text x="131.60" y="286.00" font-size="7.5" fill="#2e2e2e" stroke="#2e2e2e" stroke-width="0.18" text-anchor="end"  xml:space="preserve">0</text>
<text x="131.60" y="271.92" font-size="7.5" fill="#2e2e2e" stroke="#2e2e2e" stroke-width="0.18" text-anchor="end"  xml:space="preserve">0.4</text>
<text x="131.60" y="257.84" font-size="7.5" fill="#2e2e2e" stroke="#2e2e2e" stroke-width="0.18" text-anchor="end"  xml:space="preserve">0.8</text>
<text x="131.60" y="243.76" font-size="7.5" fill="#2e2e2e" stroke="#2e2e2e" stroke-width="0.18" text-anchor="end"  xml:space="preserve">1.2</text>
<text x="131.60" y="229.68" font-size="7.5" fill="#2e2e2e" stroke="#2e2e2e" stroke-width="0.18" text-anchor="end"  xml:space="preserve">1.6</text>
<text x="131.60" y="215.60" font-size="7.5" fill="#2e2e2e" stroke="#2e2e2e" stroke-width="0.18" text-anchor="end"  xml:space="preserve">2.0</text>
<text x="131.60" y="201.52" font-size="7.5" fill="#2e2e2e" stroke="#2e2e2e" stroke-width="0.18" text-anchor="end"  xml:space="preserve">2.4</text>
<text x="147.30" y="296.30" font-size="7.5" fill="#2e2e2e" stroke="#2e2e2e" stroke-width="0.18" text-anchor="middle"  xml:space="preserve">0</text>
<text x="166.03" y="296.30" font-size="7.5" fill="#2e2e2e" stroke="#2e2e2e" stroke-width="0.18" text-anchor="middle"  xml:space="preserve">2</text>
<text x="184.76" y="296.30" font-size="7.5" fill="#2e2e2e" stroke="#2e2e2e" stroke-width="0.18" text-anchor="middle"  xml:space="preserve">4</text>
<text x="203.49" y="296.30" font-size="7.5" fill="#2e2e2e" stroke="#2e2e2e" stroke-width="0.18" text-anchor="middle"  xml:space="preserve">6</text>
<path d="M134.80,283.40H137.8M134.80,269.32H137.8M134.80,255.24H137.8M134.80,241.16H137.8M134.80,227.08H137.8M134.80,213.00H137.8M134.80,198.92H137.8M136.20,276.36H137.8M136.20,262.28H137.8M136.20,248.20H137.8M136.20,234.12H137.8M136.20,220.04H137.8M136.20,205.96H137.8M147.30,283.40v3M166.03,283.40v3M184.76,283.40v3M203.49,283.40v3" stroke="#262626" stroke-width="0.9" fill="none"/>
<text x="138.70" y="190.70" font-size="8.5" fill="#2e2e2e" stroke="#2e2e2e" stroke-width="0.12" textLength="50.96" lengthAdjust="spacing"  xml:space="preserve">Platelets (10</text>
<text x="189.66" y="187.89" font-size="6.29" fill="#2e2e2e" stroke="#2e2e2e" stroke-width="0.12" textLength="7.55" lengthAdjust="spacing"  xml:space="preserve">12</text>
<text x="197.20" y="190.70" font-size="8.5" fill="#2e2e2e" stroke="#2e2e2e" stroke-width="0.12" textLength="10.70" lengthAdjust="spacing"  xml:space="preserve">/L)</text>
<text x="203.60" y="255.40" font-size="7" fill="#bbbbbb" stroke="#bbbbbb" stroke-width="0.18" text-anchor="middle"  xml:space="preserve">*</text>
<rect x="238.90" y="241.40" width="69.50" height="38.64" fill="#e1e1e3"/>
<path d="M247.70,250.43 L285.16,267.44 L303.89,264.71" fill="none" stroke="#3aa8dc" stroke-width="1"/>
<path d="M247.70,258.62 L285.16,255.47 L303.89,247.49" fill="none" stroke="#f29a1c" stroke-width="1"/>
<path d="M247.70,268.49 L285.16,261.98 L303.89,230.48" fill="none" stroke="#4b1a6e" stroke-width="1"/>
<path d="M247.70,256.10 L285.16,248.54 L303.89,225.23" fill="none" stroke="#c4123a" stroke-width="1"/>
<path d="M247.70,243.08V257.78M245.70,243.08h4M245.70,257.78h4" stroke="#3aa8dc" stroke-width="0.8" fill="none"/>
<circle cx="247.70" cy="250.43" r="2" fill="#3aa8dc"/>
<path d="M285.16,263.87V271.01M283.16,263.87h4M283.16,271.01h4" stroke="#3aa8dc" stroke-width="0.8" fill="none"/>
<circle cx="285.16" cy="267.44" r="2" fill="#3aa8dc"/>
<path d="M303.89,259.46V269.96M301.89,259.46h4M301.89,269.96h4" stroke="#3aa8dc" stroke-width="0.8" fill="none"/>
<circle cx="303.89" cy="264.71" r="2" fill="#3aa8dc"/>
<path d="M247.70,254.42V262.82M245.70,254.42h4M245.70,262.82h4" stroke="#f29a1c" stroke-width="0.8" fill="none"/>
<circle cx="247.70" cy="258.62" r="2" fill="#f29a1c"/>
<path d="M285.16,249.17V261.77M283.16,249.17h4M283.16,261.77h4" stroke="#f29a1c" stroke-width="0.8" fill="none"/>
<circle cx="285.16" cy="255.47" r="2" fill="#f29a1c"/>
<path d="M303.89,238.04V256.94M301.89,238.04h4M301.89,256.94h4" stroke="#f29a1c" stroke-width="0.8" fill="none"/>
<circle cx="303.89" cy="247.49" r="2" fill="#f29a1c"/>
<path d="M247.70,265.34V271.64M245.70,265.34h4M245.70,271.64h4" stroke="#4b1a6e" stroke-width="0.8" fill="none"/>
<circle cx="247.70" cy="268.49" r="2" fill="#4b1a6e"/>
<path d="M285.16,255.68V268.28M283.16,255.68h4M283.16,268.28h4" stroke="#4b1a6e" stroke-width="0.8" fill="none"/>
<circle cx="285.16" cy="261.98" r="2" fill="#4b1a6e"/>
<path d="M303.89,213.68V247.28M301.89,213.68h4M301.89,247.28h4" stroke="#4b1a6e" stroke-width="0.8" fill="none"/>
<circle cx="303.89" cy="230.48" r="2" fill="#4b1a6e"/>
<path d="M247.70,251.90V260.30M245.70,251.90h4M245.70,260.30h4" stroke="#c4123a" stroke-width="0.8" fill="none"/>
<circle cx="247.70" cy="256.10" r="2" fill="#c4123a"/>
<path d="M285.16,236.36V260.72M283.16,236.36h4M283.16,260.72h4" stroke="#c4123a" stroke-width="0.8" fill="none"/>
<circle cx="285.16" cy="248.54" r="2" fill="#c4123a"/>
<path d="M303.89,202.76V247.70M301.89,202.76h4M301.89,247.70h4" stroke="#c4123a" stroke-width="0.8" fill="none"/>
<circle cx="303.89" cy="225.23" r="2" fill="#c4123a"/>
<path d="M238.40,197.00V283.40H308.00" fill="none" stroke="#262626" stroke-width="1.05"/>
<text x="232.20" y="286.00" font-size="7.5" fill="#2e2e2e" stroke="#2e2e2e" stroke-width="0.18" text-anchor="end"  xml:space="preserve">0</text>
<text x="232.20" y="265.00" font-size="7.5" fill="#2e2e2e" stroke="#2e2e2e" stroke-width="0.18" text-anchor="end"  xml:space="preserve">1</text>
<text x="232.20" y="244.00" font-size="7.5" fill="#2e2e2e" stroke="#2e2e2e" stroke-width="0.18" text-anchor="end"  xml:space="preserve">2</text>
<text x="232.20" y="223.00" font-size="7.5" fill="#2e2e2e" stroke="#2e2e2e" stroke-width="0.18" text-anchor="end"  xml:space="preserve">3</text>
<text x="232.20" y="202.00" font-size="7.5" fill="#2e2e2e" stroke="#2e2e2e" stroke-width="0.18" text-anchor="end"  xml:space="preserve">4</text>
<text x="247.70" y="296.30" font-size="7.5" fill="#2e2e2e" stroke="#2e2e2e" stroke-width="0.18" text-anchor="middle"  xml:space="preserve">0</text>
<text x="266.43" y="296.30" font-size="7.5" fill="#2e2e2e" stroke="#2e2e2e" stroke-width="0.18" text-anchor="middle"  xml:space="preserve">2</text>
<text x="285.16" y="296.30" font-size="7.5" fill="#2e2e2e" stroke="#2e2e2e" stroke-width="0.18" text-anchor="middle"  xml:space="preserve">4</text>
<text x="303.89" y="296.30" font-size="7.5" fill="#2e2e2e" stroke="#2e2e2e" stroke-width="0.18" text-anchor="middle"  xml:space="preserve">6</text>
<path d="M235.40,283.40H238.4M235.40,262.40H238.4M235.40,241.40H238.4M235.40,220.40H238.4M235.40,199.40H238.4M236.80,272.90H238.4M236.80,251.90H238.4M236.80,230.90H238.4M236.80,209.90H238.4M247.70,283.40v3M266.43,283.40v3M285.16,283.40v3M303.89,283.40v3" stroke="#262626" stroke-width="0.9" fill="none"/>
<text x="235.80" y="190.70" font-size="8.5" fill="#2e2e2e" stroke="#2e2e2e" stroke-width="0.12" textLength="61.57" lengthAdjust="spacing"  xml:space="preserve">Neutrophils (10</text>
<text x="297.37" y="187.89" font-size="6.29" fill="#2e2e2e" stroke="#2e2e2e" stroke-width="0.12" textLength="3.74" lengthAdjust="spacing"  xml:space="preserve">9</text>
<text x="301.10" y="190.70" font-size="8.5" fill="#2e2e2e" stroke="#2e2e2e" stroke-width="0.12" textLength="10.60" lengthAdjust="spacing"  xml:space="preserve">/L)</text>
<rect x="337.50" y="240.41" width="68.50" height="25.99" fill="#e1e1e3"/>
<path d="M346.10,231.98 L383.56,251.93 L402.29,252.49" fill="none" stroke="#4b1a6e" stroke-width="1"/>
<path d="M346.10,231.13 L383.56,248.42 L402.29,249.79" fill="none" stroke="#f29a1c" stroke-width="1"/>
<path d="M346.10,225.79 L383.56,230.01 L402.29,235.63" fill="none" stroke="#3aa8dc" stroke-width="1"/>
<path d="M346.10,225.94 L383.56,214.27 L402.29,206.83" fill="none" stroke="#c4123a" stroke-width="1"/>
<path d="M346.10,229.73V234.22M344.10,229.73h4M344.10,234.22h4" stroke="#4b1a6e" stroke-width="0.8" fill="none"/>
<circle cx="346.10" cy="231.98" r="2" fill="#4b1a6e"/>
<path d="M383.56,250.24V253.61M381.56,250.24h4M381.56,253.61h4" stroke="#4b1a6e" stroke-width="0.8" fill="none"/>
<circle cx="383.56" cy="251.93" r="2" fill="#4b1a6e"/>
<path d="M402.29,249.12V255.86M400.29,249.12h4M400.29,255.86h4" stroke="#4b1a6e" stroke-width="0.8" fill="none"/>
<circle cx="402.29" cy="252.49" r="2" fill="#4b1a6e"/>
<path d="M346.10,228.89V233.38M344.10,228.89h4M344.10,233.38h4" stroke="#f29a1c" stroke-width="0.8" fill="none"/>
<circle cx="346.10" cy="231.13" r="2" fill="#f29a1c"/>
<path d="M383.56,246.17V250.66M381.56,246.17h4M381.56,250.66h4" stroke="#f29a1c" stroke-width="0.8" fill="none"/>
<circle cx="383.56" cy="248.42" r="2" fill="#f29a1c"/>
<path d="M402.29,247.54V252.04M400.29,247.54h4M400.29,252.04h4" stroke="#f29a1c" stroke-width="0.8" fill="none"/>
<circle cx="402.29" cy="249.79" r="2" fill="#f29a1c"/>
<path d="M346.10,222.98V228.60M344.10,222.98h4M344.10,228.60h4" stroke="#3aa8dc" stroke-width="0.8" fill="none"/>
<circle cx="346.10" cy="225.79" r="2" fill="#3aa8dc"/>
<path d="M383.56,224.39V235.63M381.56,224.39h4M381.56,235.63h4" stroke="#3aa8dc" stroke-width="0.8" fill="none"/>
<circle cx="383.56" cy="230.01" r="2" fill="#3aa8dc"/>
<path d="M402.29,230.01V241.25M400.29,230.01h4M400.29,241.25h4" stroke="#3aa8dc" stroke-width="0.8" fill="none"/>
<circle cx="402.29" cy="235.63" r="2" fill="#3aa8dc"/>
<path d="M346.10,223.13V228.75M344.10,223.13h4M344.10,228.75h4" stroke="#c4123a" stroke-width="0.8" fill="none"/>
<circle cx="346.10" cy="225.94" r="2" fill="#c4123a"/>
<path d="M383.56,209.78V218.77M381.56,209.78h4M381.56,218.77h4" stroke="#c4123a" stroke-width="0.8" fill="none"/>
<circle cx="383.56" cy="214.27" r="2" fill="#c4123a"/>
<path d="M402.29,201.49V212.17M400.29,201.49h4M400.29,212.17h4" stroke="#c4123a" stroke-width="0.8" fill="none"/>
<circle cx="402.29" cy="206.83" r="2" fill="#c4123a"/>
<path d="M337.00,197.00V283.40H406.50" fill="none" stroke="#262626" stroke-width="1.05"/>
<text x="330.80" y="286.00" font-size="7.5" fill="#2e2e2e" stroke="#2e2e2e" stroke-width="0.18" text-anchor="end"  xml:space="preserve">0</text>
<text x="330.80" y="257.90" font-size="7.5" fill="#2e2e2e" stroke="#2e2e2e" stroke-width="0.18" text-anchor="end"  xml:space="preserve">10</text>
<text x="330.80" y="229.80" font-size="7.5" fill="#2e2e2e" stroke="#2e2e2e" stroke-width="0.18" text-anchor="end"  xml:space="preserve">20</text>
<text x="330.80" y="201.70" font-size="7.5" fill="#2e2e2e" stroke="#2e2e2e" stroke-width="0.18" text-anchor="end"  xml:space="preserve">30</text>
<text x="346.10" y="296.30" font-size="7.5" fill="#2e2e2e" stroke="#2e2e2e" stroke-width="0.18" text-anchor="middle"  xml:space="preserve">0</text>
<text x="364.83" y="296.30" font-size="7.5" fill="#2e2e2e" stroke="#2e2e2e" stroke-width="0.18" text-anchor="middle"  xml:space="preserve">2</text>
<text x="383.56" y="296.30" font-size="7.5" fill="#2e2e2e" stroke="#2e2e2e" stroke-width="0.18" text-anchor="middle"  xml:space="preserve">4</text>
<text x="402.29" y="296.30" font-size="7.5" fill="#2e2e2e" stroke="#2e2e2e" stroke-width="0.18" text-anchor="middle"  xml:space="preserve">6</text>
<path d="M334.00,283.40H337.0M334.00,255.30H337.0M334.00,227.20H337.0M334.00,199.10H337.0M346.10,283.40v3M364.83,283.40v3M383.56,283.40v3M402.29,283.40v3" stroke="#262626" stroke-width="0.9" fill="none"/>
<text x="345.00" y="190.70" font-size="8.5" fill="#2e2e2e" stroke="#2e2e2e" stroke-width="0.12" textLength="38.73" lengthAdjust="spacing"  xml:space="preserve">WBC (10</text>
<text x="383.73" y="187.89" font-size="6.29" fill="#2e2e2e" stroke="#2e2e2e" stroke-width="0.12" textLength="3.93" lengthAdjust="spacing"  xml:space="preserve">9</text>
<text x="387.66" y="190.70" font-size="8.5" fill="#2e2e2e" stroke="#2e2e2e" stroke-width="0.12" textLength="11.14" lengthAdjust="spacing"  xml:space="preserve">/L)</text>
<text x="402.00" y="247.40" font-size="7" fill="#3aa8dc" stroke="#3aa8dc" stroke-width="0.18" text-anchor="middle"  xml:space="preserve">**</text>
<text x="402.00" y="266.50" font-size="7" fill="#f29a1c" text-anchor="middle"  xml:space="preserve">****</text>
<text x="402.00" y="271.80" font-size="7" fill="#4b1a6e" stroke="#4b1a6e" stroke-width="0.18" text-anchor="middle"  xml:space="preserve">****</text>
<rect x="437.30" y="252.86" width="69.30" height="13.12" fill="#e1e1e3"/>
<path d="M445.90,237.32 L483.36,251.17 L502.09,256.14" fill="none" stroke="#f29a1c" stroke-width="1"/>
<path d="M445.90,231.98 L483.36,256.14 L502.09,262.89" fill="none" stroke="#4b1a6e" stroke-width="1"/>
<path d="M445.90,232.82 L483.36,237.32 L502.09,239.56" fill="none" stroke="#3aa8dc" stroke-width="1"/>
<path d="M445.90,231.41 L483.36,221.58 L502.09,219.05" fill="none" stroke="#c4123a" stroke-width="1"/>
<path d="M445.90,235.07V239.56M443.90,235.07h4M443.90,239.56h4" stroke="#f29a1c" stroke-width="0.8" fill="none"/>
<circle cx="445.90" cy="237.32" r="2" fill="#f29a1c"/>
<path d="M483.36,248.92V253.42M481.36,248.92h4M481.36,253.42h4" stroke="#f29a1c" stroke-width="0.8" fill="none"/>
<circle cx="483.36" cy="251.17" r="2" fill="#f29a1c"/>
<path d="M502.09,253.33V258.95M500.09,253.33h4M500.09,258.95h4" stroke="#f29a1c" stroke-width="0.8" fill="none"/>
<circle cx="502.09" cy="256.14" r="2" fill="#f29a1c"/>
<path d="M445.90,229.73V234.22M443.90,229.73h4M443.90,234.22h4" stroke="#4b1a6e" stroke-width="0.8" fill="none"/>
<circle cx="445.90" cy="231.98" r="2" fill="#4b1a6e"/>
<path d="M483.36,254.74V257.55M481.36,254.74h4M481.36,257.55h4" stroke="#4b1a6e" stroke-width="0.8" fill="none"/>
<circle cx="483.36" cy="256.14" r="2" fill="#4b1a6e"/>
<path d="M502.09,260.64V265.13M500.09,260.64h4M500.09,265.13h4" stroke="#4b1a6e" stroke-width="0.8" fill="none"/>
<circle cx="502.09" cy="262.89" r="2" fill="#4b1a6e"/>
<path d="M445.90,230.57V235.07M443.90,230.57h4M443.90,235.07h4" stroke="#3aa8dc" stroke-width="0.8" fill="none"/>
<circle cx="445.90" cy="232.82" r="2" fill="#3aa8dc"/>
<path d="M483.36,233.94V240.69M481.36,233.94h4M481.36,240.69h4" stroke="#3aa8dc" stroke-width="0.8" fill="none"/>
<circle cx="483.36" cy="237.32" r="2" fill="#3aa8dc"/>
<path d="M502.09,235.35V243.78M500.09,235.35h4M500.09,243.78h4" stroke="#3aa8dc" stroke-width="0.8" fill="none"/>
<circle cx="502.09" cy="239.56" r="2" fill="#3aa8dc"/>
<path d="M445.90,227.20V235.63M443.90,227.20h4M443.90,235.63h4" stroke="#c4123a" stroke-width="0.8" fill="none"/>
<circle cx="445.90" cy="231.41" r="2" fill="#c4123a"/>
<path d="M483.36,218.21V224.95M481.36,218.21h4M481.36,224.95h4" stroke="#c4123a" stroke-width="0.8" fill="none"/>
<circle cx="483.36" cy="221.58" r="2" fill="#c4123a"/>
<path d="M502.09,216.80V221.30M500.09,216.80h4M500.09,221.30h4" stroke="#c4123a" stroke-width="0.8" fill="none"/>
<circle cx="502.09" cy="219.05" r="2" fill="#c4123a"/>
<path d="M436.80,197.00V283.40H506.50" fill="none" stroke="#262626" stroke-width="1.05"/>
<text x="430.60" y="286.00" font-size="7.5" fill="#2e2e2e" stroke="#2e2e2e" stroke-width="0.18" text-anchor="end"  xml:space="preserve">0</text>
<text x="430.60" y="257.90" font-size="7.5" fill="#2e2e2e" stroke="#2e2e2e" stroke-width="0.18" text-anchor="end"  xml:space="preserve">10</text>
<text x="430.60" y="229.80" font-size="7.5" fill="#2e2e2e" stroke="#2e2e2e" stroke-width="0.18" text-anchor="end"  xml:space="preserve">20</text>
<text x="430.60" y="201.70" font-size="7.5" fill="#2e2e2e" stroke="#2e2e2e" stroke-width="0.18" text-anchor="end"  xml:space="preserve">30</text>
<text x="445.90" y="296.30" font-size="7.5" fill="#2e2e2e" stroke="#2e2e2e" stroke-width="0.18" text-anchor="middle"  xml:space="preserve">0</text>
<text x="464.63" y="296.30" font-size="7.5" fill="#2e2e2e" stroke="#2e2e2e" stroke-width="0.18" text-anchor="middle"  xml:space="preserve">2</text>
<text x="483.36" y="296.30" font-size="7.5" fill="#2e2e2e" stroke="#2e2e2e" stroke-width="0.18" text-anchor="middle"  xml:space="preserve">4</text>
<text x="502.09" y="296.30" font-size="7.5" fill="#2e2e2e" stroke="#2e2e2e" stroke-width="0.18" text-anchor="middle"  xml:space="preserve">6</text>
<path d="M433.80,283.40H436.8M433.80,255.30H436.8M433.80,227.20H436.8M433.80,199.10H436.8M445.90,283.40v3M464.63,283.40v3M483.36,283.40v3M502.09,283.40v3" stroke="#262626" stroke-width="0.9" fill="none"/>
<text x="430.00" y="190.70" font-size="8.5" fill="#2e2e2e" stroke="#2e2e2e" stroke-width="0.12" textLength="68.94" lengthAdjust="spacing"  xml:space="preserve">Lymphocytes (10</text>
<text x="498.94" y="187.89" font-size="6.29" fill="#2e2e2e" stroke="#2e2e2e" stroke-width="0.12" textLength="3.74" lengthAdjust="spacing"  xml:space="preserve">9</text>
<text x="502.68" y="190.70" font-size="8.5" fill="#2e2e2e" stroke="#2e2e2e" stroke-width="0.12" textLength="10.62" lengthAdjust="spacing"  xml:space="preserve">/L)</text>
<text x="502.00" y="252.60" font-size="7" fill="#3aa8dc" stroke="#3aa8dc" stroke-width="0.18" text-anchor="middle"  xml:space="preserve">**</text>
<text x="502.00" y="275.40" font-size="7" fill="#f29a1c" text-anchor="middle"  xml:space="preserve">****</text>
<text x="502.00" y="279.90" font-size="7" fill="#4b1a6e" stroke="#4b1a6e" stroke-width="0.18" text-anchor="middle"  xml:space="preserve">****</text>
<path d="M47.80,340.24 L85.26,336.89 L103.99,337.73" fill="none" stroke="#f29a1c" stroke-width="1"/>
<path d="M47.80,340.08 L85.26,336.64 L103.99,336.89" fill="none" stroke="#c4123a" stroke-width="1"/>
<circle cx="47.80" cy="340.24" r="2" fill="#f29a1c"/>
<circle cx="85.26" cy="336.89" r="2" fill="#f29a1c"/>
<path d="M103.99,337.22V338.23M101.99,337.22h4M101.99,338.23h4" stroke="#f29a1c" stroke-width="0.8" fill="none"/>
<circle cx="103.99" cy="337.73" r="2" fill="#f29a1c"/>
<circle cx="47.80" cy="340.08" r="2" fill="#c4123a"/>
<circle cx="85.26" cy="336.64" r="2" fill="#c4123a"/>
<circle cx="103.99" cy="336.89" r="2" fill="#c4123a"/>
<path d="M38.40,333.70V420.20H108.50" fill="none" stroke="#262626" stroke-width="1.05"/>
<text x="32.20" y="422.80" font-size="7.5" fill="#2e2e2e" stroke="#2e2e2e" stroke-width="0.18" text-anchor="end"  xml:space="preserve">0</text>
<text x="32.20" y="406.02" font-size="7.5" fill="#2e2e2e" stroke="#2e2e2e" stroke-width="0.18" text-anchor="end"  xml:space="preserve">20</text>
<text x="32.20" y="389.24" font-size="7.5" fill="#2e2e2e" stroke="#2e2e2e" stroke-width="0.18" text-anchor="end"  xml:space="preserve">40</text>
<text x="32.20" y="372.46" font-size="7.5" fill="#2e2e2e" stroke="#2e2e2e" stroke-width="0.18" text-anchor="end"  xml:space="preserve">60</text>
<text x="32.20" y="355.68" font-size="7.5" fill="#2e2e2e" stroke="#2e2e2e" stroke-width="0.18" text-anchor="end"  xml:space="preserve">80</text>
<text x="32.20" y="338.90" font-size="7.5" fill="#2e2e2e" stroke="#2e2e2e" stroke-width="0.18" text-anchor="end"  xml:space="preserve">100</text>
<text x="47.80" y="433.10" font-size="7.5" fill="#2e2e2e" stroke="#2e2e2e" stroke-width="0.18" text-anchor="middle"  xml:space="preserve">0</text>
<text x="66.53" y="433.10" font-size="7.5" fill="#2e2e2e" stroke="#2e2e2e" stroke-width="0.18" text-anchor="middle"  xml:space="preserve">2</text>
<text x="85.26" y="433.10" font-size="7.5" fill="#2e2e2e" stroke="#2e2e2e" stroke-width="0.18" text-anchor="middle"  xml:space="preserve">4</text>
<text x="103.99" y="433.10" font-size="7.5" fill="#2e2e2e" stroke="#2e2e2e" stroke-width="0.18" text-anchor="middle"  xml:space="preserve">6</text>
<path d="M35.40,420.20H38.4M35.40,403.42H38.4M35.40,386.64H38.4M35.40,369.86H38.4M35.40,353.08H38.4M35.40,336.30H38.4M47.80,420.20v3M66.53,420.20v3M85.26,420.20v3M103.99,420.20v3" stroke="#262626" stroke-width="0.9" fill="none"/>
<text x="37.30" y="327.70" font-size="8.5" fill="#2e2e2e" stroke="#2e2e2e" stroke-width="0.12" textLength="71.90" lengthAdjust="spacing"  xml:space="preserve">Ter119+ (% GFP)</text>
<path d="M147.30,367.09 L184.76,356.44 L203.49,355.76" fill="none" stroke="#f29a1c" stroke-width="1"/>
<path d="M147.30,366.17 L184.76,353.00 L203.49,351.91" fill="none" stroke="#4b1a6e" stroke-width="1"/>
<path d="M147.30,366.50 L184.76,353.50 L203.49,352.66" fill="none" stroke="#3aa8dc" stroke-width="1"/>
<path d="M147.30,361.97 L184.76,349.47 L203.49,348.38" fill="none" stroke="#c4123a" stroke-width="1"/>
<path d="M147.30,362.90V371.29M145.30,362.90h4M145.30,371.29h4" stroke="#f29a1c" stroke-width="0.8" fill="none"/>
<circle cx="147.30" cy="367.09" r="2" fill="#f29a1c"/>
<path d="M184.76,351.40V361.47M182.76,351.40h4M182.76,361.47h4" stroke="#f29a1c" stroke-width="0.8" fill="none"/>
<circle cx="184.76" cy="356.44" r="2" fill="#f29a1c"/>
<path d="M203.49,350.73V360.80M201.49,350.73h4M201.49,360.80h4" stroke="#f29a1c" stroke-width="0.8" fill="none"/>
<circle cx="203.49" cy="355.76" r="2" fill="#f29a1c"/>
<path d="M147.30,363.65V368.69M145.30,363.65h4M145.30,368.69h4" stroke="#4b1a6e" stroke-width="0.8" fill="none"/>
<circle cx="147.30" cy="366.17" r="2" fill="#4b1a6e"/>
<path d="M184.76,350.48V355.51M182.76,350.48h4M182.76,355.51h4" stroke="#4b1a6e" stroke-width="0.8" fill="none"/>
<circle cx="184.76" cy="353.00" r="2" fill="#4b1a6e"/>
<path d="M203.49,349.39V354.42M201.49,349.39h4M201.49,354.42h4" stroke="#4b1a6e" stroke-width="0.8" fill="none"/>
<circle cx="203.49" cy="351.91" r="2" fill="#4b1a6e"/>
<path d="M147.30,363.99V369.02M145.30,363.99h4M145.30,369.02h4" stroke="#3aa8dc" stroke-width="0.8" fill="none"/>
<circle cx="147.30" cy="366.50" r="2" fill="#3aa8dc"/>
<path d="M184.76,350.98V356.02M182.76,350.98h4M182.76,356.02h4" stroke="#3aa8dc" stroke-width="0.8" fill="none"/>
<circle cx="184.76" cy="353.50" r="2" fill="#3aa8dc"/>
<path d="M203.49,350.14V355.18M201.49,350.14h4M201.49,355.18h4" stroke="#3aa8dc" stroke-width="0.8" fill="none"/>
<circle cx="203.49" cy="352.66" r="2" fill="#3aa8dc"/>
<path d="M147.30,359.04V364.91M145.30,359.04h4M145.30,364.91h4" stroke="#c4123a" stroke-width="0.8" fill="none"/>
<circle cx="147.30" cy="361.97" r="2" fill="#c4123a"/>
<path d="M184.76,346.96V351.99M182.76,346.96h4M182.76,351.99h4" stroke="#c4123a" stroke-width="0.8" fill="none"/>
<circle cx="184.76" cy="349.47" r="2" fill="#c4123a"/>
<path d="M203.49,345.86V350.90M201.49,345.86h4M201.49,350.90h4" stroke="#c4123a" stroke-width="0.8" fill="none"/>
<circle cx="203.49" cy="348.38" r="2" fill="#c4123a"/>
<path d="M137.80,333.70V420.20H207.50" fill="none" stroke="#262626" stroke-width="1.05"/>
<text x="131.60" y="422.80" font-size="7.5" fill="#2e2e2e" stroke="#2e2e2e" stroke-width="0.18" text-anchor="end"  xml:space="preserve">0</text>
<text x="131.60" y="406.02" font-size="7.5" fill="#2e2e2e" stroke="#2e2e2e" stroke-width="0.18" text-anchor="end"  xml:space="preserve">20</text>
<text x="131.60" y="389.24" font-size="7.5" fill="#2e2e2e" stroke="#2e2e2e" stroke-width="0.18" text-anchor="end"  xml:space="preserve">40</text>
<text x="131.60" y="372.46" font-size="7.5" fill="#2e2e2e" stroke="#2e2e2e" stroke-width="0.18" text-anchor="end"  xml:space="preserve">60</text>
<text x="131.60" y="355.68" font-size="7.5" fill="#2e2e2e" stroke="#2e2e2e" stroke-width="0.18" text-anchor="end"  xml:space="preserve">80</text>
<text x="131.60" y="338.90" font-size="7.5" fill="#2e2e2e" stroke="#2e2e2e" stroke-width="0.18" text-anchor="end"  xml:space="preserve">100</text>
<text x="147.30" y="433.10" font-size="7.5" fill="#2e2e2e" stroke="#2e2e2e" stroke-width="0.18" text-anchor="middle"  xml:space="preserve">0</text>
<text x="166.03" y="433.10" font-size="7.5" fill="#2e2e2e" stroke="#2e2e2e" stroke-width="0.18" text-anchor="middle"  xml:space="preserve">2</text>
<text x="184.76" y="433.10" font-size="7.5" fill="#2e2e2e" stroke="#2e2e2e" stroke-width="0.18" text-anchor="middle"  xml:space="preserve">4</text>
<text x="203.49" y="433.10" font-size="7.5" fill="#2e2e2e" stroke="#2e2e2e" stroke-width="0.18" text-anchor="middle"  xml:space="preserve">6</text>
<path d="M134.80,420.20H137.8M134.80,403.42H137.8M134.80,386.64H137.8M134.80,369.86H137.8M134.80,353.08H137.8M134.80,336.30H137.8M147.30,420.20v3M166.03,420.20v3M184.76,420.20v3M203.49,420.20v3" stroke="#262626" stroke-width="0.9" fill="none"/>
<text x="138.70" y="327.70" font-size="8.5" fill="#2e2e2e" stroke="#2e2e2e" stroke-width="0.12" textLength="68.60" lengthAdjust="spacing"  xml:space="preserve">CD61+ (% GFP)</text>
<path d="M247.70,344.35 L285.16,342.51 L303.89,342.51" fill="none" stroke="#f29a1c" stroke-width="1"/>
<path d="M247.70,342.17 L285.16,340.08 L303.89,339.66" fill="none" stroke="#3aa8dc" stroke-width="1"/>
<path d="M247.70,341.92 L285.16,339.82 L303.89,338.98" fill="none" stroke="#4b1a6e" stroke-width="1"/>
<path d="M247.70,338.82 L285.16,337.98 L303.89,337.73" fill="none" stroke="#c4123a" stroke-width="1"/>
<path d="M247.70,342.26V346.45M245.70,342.26h4M245.70,346.45h4" stroke="#f29a1c" stroke-width="0.8" fill="none"/>
<circle cx="247.70" cy="344.35" r="2" fill="#f29a1c"/>
<path d="M285.16,339.99V345.03M283.16,339.99h4M283.16,345.03h4" stroke="#f29a1c" stroke-width="0.8" fill="none"/>
<circle cx="285.16" cy="342.51" r="2" fill="#f29a1c"/>
<path d="M303.89,339.15V345.86M301.89,339.15h4M301.89,345.86h4" stroke="#f29a1c" stroke-width="0.8" fill="none"/>
<circle cx="303.89" cy="342.51" r="2" fill="#f29a1c"/>
<path d="M247.70,341.33V343.01M245.70,341.33h4M245.70,343.01h4" stroke="#3aa8dc" stroke-width="0.8" fill="none"/>
<circle cx="247.70" cy="342.17" r="2" fill="#3aa8dc"/>
<path d="M285.16,339.24V340.91M283.16,339.24h4M283.16,340.91h4" stroke="#3aa8dc" stroke-width="0.8" fill="none"/>
<circle cx="285.16" cy="340.08" r="2" fill="#3aa8dc"/>
<path d="M303.89,338.82V340.50M301.89,338.82h4M301.89,340.50h4" stroke="#3aa8dc" stroke-width="0.8" fill="none"/>
<circle cx="303.89" cy="339.66" r="2" fill="#3aa8dc"/>
<path d="M247.70,341.08V342.76M245.70,341.08h4M245.70,342.76h4" stroke="#4b1a6e" stroke-width="0.8" fill="none"/>
<circle cx="247.70" cy="341.92" r="2" fill="#4b1a6e"/>
<path d="M285.16,338.98V340.66M283.16,338.98h4M283.16,340.66h4" stroke="#4b1a6e" stroke-width="0.8" fill="none"/>
<circle cx="285.16" cy="339.82" r="2" fill="#4b1a6e"/>
<path d="M303.89,338.15V339.82M301.89,338.15h4M301.89,339.82h4" stroke="#4b1a6e" stroke-width="0.8" fill="none"/>
<circle cx="303.89" cy="338.98" r="2" fill="#4b1a6e"/>
<path d="M247.70,337.98V339.66M245.70,337.98h4M245.70,339.66h4" stroke="#c4123a" stroke-width="0.8" fill="none"/>
<circle cx="247.70" cy="338.82" r="2" fill="#c4123a"/>
<path d="M285.16,337.14V338.82M283.16,337.14h4M283.16,338.82h4" stroke="#c4123a" stroke-width="0.8" fill="none"/>
<circle cx="285.16" cy="337.98" r="2" fill="#c4123a"/>
<path d="M303.89,336.89V338.57M301.89,336.89h4M301.89,338.57h4" stroke="#c4123a" stroke-width="0.8" fill="none"/>
<circle cx="303.89" cy="337.73" r="2" fill="#c4123a"/>
<path d="M238.40,333.70V420.20H308.00" fill="none" stroke="#262626" stroke-width="1.05"/>
<text x="232.20" y="422.80" font-size="7.5" fill="#2e2e2e" stroke="#2e2e2e" stroke-width="0.18" text-anchor="end"  xml:space="preserve">0</text>
<text x="232.20" y="406.02" font-size="7.5" fill="#2e2e2e" stroke="#2e2e2e" stroke-width="0.18" text-anchor="end"  xml:space="preserve">20</text>
<text x="232.20" y="389.24" font-size="7.5" fill="#2e2e2e" stroke="#2e2e2e" stroke-width="0.18" text-anchor="end"  xml:space="preserve">40</text>
<text x="232.20" y="372.46" font-size="7.5" fill="#2e2e2e" stroke="#2e2e2e" stroke-width="0.18" text-anchor="end"  xml:space="preserve">60</text>
<text x="232.20" y="355.68" font-size="7.5" fill="#2e2e2e" stroke="#2e2e2e" stroke-width="0.18" text-anchor="end"  xml:space="preserve">80</text>
<text x="232.20" y="338.90" font-size="7.5" fill="#2e2e2e" stroke="#2e2e2e" stroke-width="0.18" text-anchor="end"  xml:space="preserve">100</text>
<text x="247.70" y="433.10" font-size="7.5" fill="#2e2e2e" stroke="#2e2e2e" stroke-width="0.18" text-anchor="middle"  xml:space="preserve">0</text>
<text x="266.43" y="433.10" font-size="7.5" fill="#2e2e2e" stroke="#2e2e2e" stroke-width="0.18" text-anchor="middle"  xml:space="preserve">2</text>
<text x="285.16" y="433.10" font-size="7.5" fill="#2e2e2e" stroke="#2e2e2e" stroke-width="0.18" text-anchor="middle"  xml:space="preserve">4</text>
<text x="303.89" y="433.10" font-size="7.5" fill="#2e2e2e" stroke="#2e2e2e" stroke-width="0.18" text-anchor="middle"  xml:space="preserve">6</text>
<path d="M235.40,420.20H238.4M235.40,403.42H238.4M235.40,386.64H238.4M235.40,369.86H238.4M235.40,353.08H238.4M235.40,336.30H238.4M247.70,420.20v3M266.43,420.20v3M285.16,420.20v3M303.89,420.20v3" stroke="#262626" stroke-width="0.9" fill="none"/>
<text x="243.80" y="327.70" font-size="8.5" fill="#2e2e2e" stroke="#2e2e2e" stroke-width="0.12" textLength="59.70" lengthAdjust="spacing"  xml:space="preserve">Gr1+ (% GFP)</text>
<path d="M346.10,400.82 L383.56,402.58 L402.29,402.92" fill="none" stroke="#f29a1c" stroke-width="1"/>
<path d="M346.10,399.22 L383.56,402.58 L402.29,400.90" fill="none" stroke="#4b1a6e" stroke-width="1"/>
<path d="M346.10,398.72 L383.56,397.71 L402.29,394.53" fill="none" stroke="#3aa8dc" stroke-width="1"/>
<path d="M346.10,398.72 L383.56,402.92 L402.29,400.82" fill="none" stroke="#c4123a" stroke-width="1"/>
<path d="M346.10,399.56V402.08M344.10,399.56h4M344.10,402.08h4" stroke="#f29a1c" stroke-width="0.8" fill="none"/>
<circle cx="346.10" cy="400.82" r="2" fill="#f29a1c"/>
<path d="M383.56,401.32V403.84M381.56,401.32h4M381.56,403.84h4" stroke="#f29a1c" stroke-width="0.8" fill="none"/>
<circle cx="383.56" cy="402.58" r="2" fill="#f29a1c"/>
<path d="M402.29,401.24V404.59M400.29,401.24h4M400.29,404.59h4" stroke="#f29a1c" stroke-width="0.8" fill="none"/>
<circle cx="402.29" cy="402.92" r="2" fill="#f29a1c"/>
<path d="M346.10,398.39V400.06M344.10,398.39h4M344.10,400.06h4" stroke="#4b1a6e" stroke-width="0.8" fill="none"/>
<circle cx="346.10" cy="399.22" r="2" fill="#4b1a6e"/>
<path d="M383.56,401.74V403.42M381.56,401.74h4M381.56,403.42h4" stroke="#4b1a6e" stroke-width="0.8" fill="none"/>
<circle cx="383.56" cy="402.58" r="2" fill="#4b1a6e"/>
<path d="M402.29,400.06V401.74M400.29,400.06h4M400.29,401.74h4" stroke="#4b1a6e" stroke-width="0.8" fill="none"/>
<circle cx="402.29" cy="400.90" r="2" fill="#4b1a6e"/>
<path d="M346.10,397.46V399.98M344.10,397.46h4M344.10,399.98h4" stroke="#3aa8dc" stroke-width="0.8" fill="none"/>
<circle cx="346.10" cy="398.72" r="2" fill="#3aa8dc"/>
<path d="M383.56,396.04V399.39M381.56,396.04h4M381.56,399.39h4" stroke="#3aa8dc" stroke-width="0.8" fill="none"/>
<circle cx="383.56" cy="397.71" r="2" fill="#3aa8dc"/>
<path d="M402.29,392.01V397.04M400.29,392.01h4M400.29,397.04h4" stroke="#3aa8dc" stroke-width="0.8" fill="none"/>
<circle cx="402.29" cy="394.53" r="2" fill="#3aa8dc"/>
<path d="M346.10,397.46V399.98M344.10,397.46h4M344.10,399.98h4" stroke="#c4123a" stroke-width="0.8" fill="none"/>
<circle cx="346.10" cy="398.72" r="2" fill="#c4123a"/>
<path d="M383.56,401.66V404.18M381.56,401.66h4M381.56,404.18h4" stroke="#c4123a" stroke-width="0.8" fill="none"/>
<circle cx="383.56" cy="402.92" r="2" fill="#c4123a"/>
<path d="M402.29,399.14V402.50M400.29,399.14h4M400.29,402.50h4" stroke="#c4123a" stroke-width="0.8" fill="none"/>
<circle cx="402.29" cy="400.82" r="2" fill="#c4123a"/>
<path d="M337.00,333.70V420.20H406.50" fill="none" stroke="#262626" stroke-width="1.05"/>
<text x="330.80" y="422.80" font-size="7.5" fill="#2e2e2e" stroke="#2e2e2e" stroke-width="0.18" text-anchor="end"  xml:space="preserve">0</text>
<text x="330.80" y="406.02" font-size="7.5" fill="#2e2e2e" stroke="#2e2e2e" stroke-width="0.18" text-anchor="end"  xml:space="preserve">20</text>
<text x="330.80" y="389.24" font-size="7.5" fill="#2e2e2e" stroke="#2e2e2e" stroke-width="0.18" text-anchor="end"  xml:space="preserve">40</text>
<text x="330.80" y="372.46" font-size="7.5" fill="#2e2e2e" stroke="#2e2e2e" stroke-width="0.18" text-anchor="end"  xml:space="preserve">60</text>
<text x="330.80" y="355.68" font-size="7.5" fill="#2e2e2e" stroke="#2e2e2e" stroke-width="0.18" text-anchor="end"  xml:space="preserve">80</text>
<text x="330.80" y="338.90" font-size="7.5" fill="#2e2e2e" stroke="#2e2e2e" stroke-width="0.18" text-anchor="end"  xml:space="preserve">100</text>
<text x="346.10" y="433.10" font-size="7.5" fill="#2e2e2e" stroke="#2e2e2e" stroke-width="0.18" text-anchor="middle"  xml:space="preserve">0</text>
<text x="364.83" y="433.10" font-size="7.5" fill="#2e2e2e" stroke="#2e2e2e" stroke-width="0.18" text-anchor="middle"  xml:space="preserve">2</text>
<text x="383.56" y="433.10" font-size="7.5" fill="#2e2e2e" stroke="#2e2e2e" stroke-width="0.18" text-anchor="middle"  xml:space="preserve">4</text>
<text x="402.29" y="433.10" font-size="7.5" fill="#2e2e2e" stroke="#2e2e2e" stroke-width="0.18" text-anchor="middle"  xml:space="preserve">6</text>
<path d="M334.00,420.20H337.0M334.00,403.42H337.0M334.00,386.64H337.0M334.00,369.86H337.0M334.00,353.08H337.0M334.00,336.30H337.0M346.10,420.20v3M364.83,420.20v3M383.56,420.20v3M402.29,420.20v3" stroke="#262626" stroke-width="0.9" fill="none"/>
<text x="338.70" y="327.70" font-size="8.5" fill="#2e2e2e" stroke="#2e2e2e" stroke-width="0.12" textLength="65.90" lengthAdjust="spacing"  xml:space="preserve">B220+ (% GFP)</text>
<path d="M445.90,411.81 L483.36,413.91 L502.09,409.71" fill="none" stroke="#f29a1c" stroke-width="1"/>
<path d="M445.90,411.39 L483.36,412.90 L502.09,408.03" fill="none" stroke="#4b1a6e" stroke-width="1"/>
<path d="M445.90,410.47 L483.36,410.80 L502.09,406.27" fill="none" stroke="#3aa8dc" stroke-width="1"/>
<path d="M445.90,412.23 L483.36,414.66 L502.09,410.80" fill="none" stroke="#c4123a" stroke-width="1"/>
<path d="M445.90,410.97V412.65M443.90,410.97h4M443.90,412.65h4" stroke="#f29a1c" stroke-width="0.8" fill="none"/>
<circle cx="445.90" cy="411.81" r="2" fill="#f29a1c"/>
<path d="M483.36,413.07V414.75M481.36,413.07h4M481.36,414.75h4" stroke="#f29a1c" stroke-width="0.8" fill="none"/>
<circle cx="483.36" cy="413.91" r="2" fill="#f29a1c"/>
<path d="M502.09,408.87V410.55M500.09,408.87h4M500.09,410.55h4" stroke="#f29a1c" stroke-width="0.8" fill="none"/>
<circle cx="502.09" cy="409.71" r="2" fill="#f29a1c"/>
<path d="M445.90,410.55V412.23M443.90,410.55h4M443.90,412.23h4" stroke="#4b1a6e" stroke-width="0.8" fill="none"/>
<circle cx="445.90" cy="411.39" r="2" fill="#4b1a6e"/>
<path d="M483.36,412.06V413.74M481.36,412.06h4M481.36,413.74h4" stroke="#4b1a6e" stroke-width="0.8" fill="none"/>
<circle cx="483.36" cy="412.90" r="2" fill="#4b1a6e"/>
<path d="M502.09,407.20V408.87M500.09,407.20h4M500.09,408.87h4" stroke="#4b1a6e" stroke-width="0.8" fill="none"/>
<circle cx="502.09" cy="408.03" r="2" fill="#4b1a6e"/>
<path d="M445.90,409.46V411.47M443.90,409.46h4M443.90,411.47h4" stroke="#3aa8dc" stroke-width="0.8" fill="none"/>
<circle cx="445.90" cy="410.47" r="2" fill="#3aa8dc"/>
<path d="M483.36,409.96V411.64M481.36,409.96h4M481.36,411.64h4" stroke="#3aa8dc" stroke-width="0.8" fill="none"/>
<circle cx="483.36" cy="410.80" r="2" fill="#3aa8dc"/>
<path d="M502.09,405.01V407.53M500.09,405.01h4M500.09,407.53h4" stroke="#3aa8dc" stroke-width="0.8" fill="none"/>
<circle cx="502.09" cy="406.27" r="2" fill="#3aa8dc"/>
<path d="M445.90,411.39V413.07M443.90,411.39h4M443.90,413.07h4" stroke="#c4123a" stroke-width="0.8" fill="none"/>
<circle cx="445.90" cy="412.23" r="2" fill="#c4123a"/>
<path d="M483.36,413.82V415.50M481.36,413.82h4M481.36,415.50h4" stroke="#c4123a" stroke-width="0.8" fill="none"/>
<circle cx="483.36" cy="414.66" r="2" fill="#c4123a"/>
<path d="M502.09,409.80V411.81M500.09,409.80h4M500.09,411.81h4" stroke="#c4123a" stroke-width="0.8" fill="none"/>
<circle cx="502.09" cy="410.80" r="2" fill="#c4123a"/>
<path d="M436.80,333.70V420.20H506.50" fill="none" stroke="#262626" stroke-width="1.05"/>
<text x="430.60" y="422.80" font-size="7.5" fill="#2e2e2e" stroke="#2e2e2e" stroke-width="0.18" text-anchor="end"  xml:space="preserve">0</text>
<text x="430.60" y="406.02" font-size="7.5" fill="#2e2e2e" stroke="#2e2e2e" stroke-width="0.18" text-anchor="end"  xml:space="preserve">20</text>
<text x="430.60" y="389.24" font-size="7.5" fill="#2e2e2e" stroke="#2e2e2e" stroke-width="0.18" text-anchor="end"  xml:space="preserve">40</text>
<text x="430.60" y="372.46" font-size="7.5" fill="#2e2e2e" stroke="#2e2e2e" stroke-width="0.18" text-anchor="end"  xml:space="preserve">60</text>
<text x="430.60" y="355.68" font-size="7.5" fill="#2e2e2e" stroke="#2e2e2e" stroke-width="0.18" text-anchor="end"  xml:space="preserve">80</text>
<text x="430.60" y="338.90" font-size="7.5" fill="#2e2e2e" stroke="#2e2e2e" stroke-width="0.18" text-anchor="end"  xml:space="preserve">100</text>
<text x="445.90" y="433.10" font-size="7.5" fill="#2e2e2e" stroke="#2e2e2e" stroke-width="0.18" text-anchor="middle"  xml:space="preserve">0</text>
<text x="464.63" y="433.10" font-size="7.5" fill="#2e2e2e" stroke="#2e2e2e" stroke-width="0.18" text-anchor="middle"  xml:space="preserve">2</text>
<text x="483.36" y="433.10" font-size="7.5" fill="#2e2e2e" stroke="#2e2e2e" stroke-width="0.18" text-anchor="middle"  xml:space="preserve">4</text>
<text x="502.09" y="433.10" font-size="7.5" fill="#2e2e2e" stroke="#2e2e2e" stroke-width="0.18" text-anchor="middle"  xml:space="preserve">6</text>
<path d="M433.80,420.20H436.8M433.80,403.42H436.8M433.80,386.64H436.8M433.80,369.86H436.8M433.80,353.08H436.8M433.80,336.30H436.8M445.90,420.20v3M464.63,420.20v3M483.36,420.20v3M502.09,420.20v3" stroke="#262626" stroke-width="0.9" fill="none"/>
<text x="440.20" y="327.70" font-size="8.5" fill="#2e2e2e" stroke="#2e2e2e" stroke-width="0.12" textLength="62.90" lengthAdjust="spacing"  xml:space="preserve">CD3+ (% GFP)</text>
<rect x="138.30" y="496.31" width="69.60" height="17.51" fill="#e1e1e3"/>
<path d="M147.30,476.31 L184.76,482.12 L203.49,497.10" fill="none" stroke="#4b1a6e" stroke-width="1"/>
<path d="M147.30,476.31 L184.76,477.90 L203.49,484.93" fill="none" stroke="#f29a1c" stroke-width="1"/>
<path d="M147.30,476.03 L184.76,473.22 L203.49,480.71" fill="none" stroke="#3aa8dc" stroke-width="1"/>
<path d="M147.30,476.31 L184.76,473.83 L203.49,475.56" fill="none" stroke="#c4123a" stroke-width="1"/>
<path d="M147.30,474.91V477.72M145.30,474.91h4M145.30,477.72h4" stroke="#4b1a6e" stroke-width="0.8" fill="none"/>
<circle cx="147.30" cy="476.31" r="2" fill="#4b1a6e"/>
<path d="M184.76,481.18V483.05M182.76,481.18h4M182.76,483.05h4" stroke="#4b1a6e" stroke-width="0.8" fill="none"/>
<circle cx="184.76" cy="482.12" r="2" fill="#4b1a6e"/>
<path d="M203.49,494.76V499.44M201.49,494.76h4M201.49,499.44h4" stroke="#4b1a6e" stroke-width="0.8" fill="none"/>
<circle cx="203.49" cy="497.10" r="2" fill="#4b1a6e"/>
<path d="M147.30,474.91V477.72M145.30,474.91h4M145.30,477.72h4" stroke="#f29a1c" stroke-width="0.8" fill="none"/>
<circle cx="147.30" cy="476.31" r="2" fill="#f29a1c"/>
<path d="M184.76,476.50V479.31M182.76,476.50h4M182.76,479.31h4" stroke="#f29a1c" stroke-width="0.8" fill="none"/>
<circle cx="184.76" cy="477.90" r="2" fill="#f29a1c"/>
<path d="M203.49,482.59V487.27M201.49,482.59h4M201.49,487.27h4" stroke="#f29a1c" stroke-width="0.8" fill="none"/>
<circle cx="203.49" cy="484.93" r="2" fill="#f29a1c"/>
<path d="M147.30,473.69V478.37M145.30,473.69h4M145.30,478.37h4" stroke="#3aa8dc" stroke-width="0.8" fill="none"/>
<circle cx="147.30" cy="476.03" r="2" fill="#3aa8dc"/>
<path d="M184.76,471.35V475.09M182.76,471.35h4M182.76,475.09h4" stroke="#3aa8dc" stroke-width="0.8" fill="none"/>
<circle cx="184.76" cy="473.22" r="2" fill="#3aa8dc"/>
<path d="M203.49,478.84V482.59M201.49,478.84h4M201.49,482.59h4" stroke="#3aa8dc" stroke-width="0.8" fill="none"/>
<circle cx="203.49" cy="480.71" r="2" fill="#3aa8dc"/>
<path d="M147.30,474.91V477.72M145.30,474.91h4M145.30,477.72h4" stroke="#c4123a" stroke-width="0.8" fill="none"/>
<circle cx="147.30" cy="476.31" r="2" fill="#c4123a"/>
<path d="M184.76,471.96V475.70M182.76,471.96h4M182.76,475.70h4" stroke="#c4123a" stroke-width="0.8" fill="none"/>
<circle cx="184.76" cy="473.83" r="2" fill="#c4123a"/>
<path d="M203.49,473.22V477.90M201.49,473.22h4M201.49,477.90h4" stroke="#c4123a" stroke-width="0.8" fill="none"/>
<circle cx="203.49" cy="475.56" r="2" fill="#c4123a"/>
<path d="M137.80,460.00V545.80H207.50" fill="none" stroke="#262626" stroke-width="1.05"/>
<text x="131.60" y="548.40" font-size="7.5" fill="#2e2e2e" stroke="#2e2e2e" stroke-width="0.18" text-anchor="end"  xml:space="preserve">0</text>
<text x="131.60" y="529.67" font-size="7.5" fill="#2e2e2e" stroke="#2e2e2e" stroke-width="0.18" text-anchor="end"  xml:space="preserve">4</text>
<text x="131.60" y="510.94" font-size="7.5" fill="#2e2e2e" stroke="#2e2e2e" stroke-width="0.18" text-anchor="end"  xml:space="preserve">8</text>
<text x="131.60" y="492.21" font-size="7.5" fill="#2e2e2e" stroke="#2e2e2e" stroke-width="0.18" text-anchor="end"  xml:space="preserve">12</text>
<text x="131.60" y="473.48" font-size="7.5" fill="#2e2e2e" stroke="#2e2e2e" stroke-width="0.18" text-anchor="end"  xml:space="preserve">16</text>
<text x="147.30" y="558.70" font-size="7.5" fill="#2e2e2e" stroke="#2e2e2e" stroke-width="0.18" text-anchor="middle"  xml:space="preserve">0</text>
<text x="166.03" y="558.70" font-size="7.5" fill="#2e2e2e" stroke="#2e2e2e" stroke-width="0.18" text-anchor="middle"  xml:space="preserve">2</text>
<text x="184.76" y="558.70" font-size="7.5" fill="#2e2e2e" stroke="#2e2e2e" stroke-width="0.18" text-anchor="middle"  xml:space="preserve">4</text>
<text x="203.49" y="558.70" font-size="7.5" fill="#2e2e2e" stroke="#2e2e2e" stroke-width="0.18" text-anchor="middle"  xml:space="preserve">6</text>
<path d="M134.80,545.80H137.8M134.80,527.07H137.8M134.80,508.34H137.8M134.80,489.61H137.8M134.80,470.88H137.8M136.20,536.43H137.8M136.20,517.70H137.8M136.20,498.97H137.8M136.20,480.24H137.8M136.20,461.51H137.8M147.30,545.80v3M166.03,545.80v3M184.76,545.80v3M203.49,545.80v3" stroke="#262626" stroke-width="0.9" fill="none"/>
<text x="145.00" y="454.70" font-size="8.5" fill="#2e2e2e" stroke="#2e2e2e" stroke-width="0.12" textLength="36.73" lengthAdjust="spacing"  xml:space="preserve">RBC (10</text>
<text x="181.73" y="451.89" font-size="6.29" fill="#2e2e2e" stroke="#2e2e2e" stroke-width="0.12" textLength="7.89" lengthAdjust="spacing"  xml:space="preserve">12</text>
<text x="189.62" y="454.70" font-size="8.5" fill="#2e2e2e" stroke="#2e2e2e" stroke-width="0.12" textLength="11.18" lengthAdjust="spacing"  xml:space="preserve">/L)</text>
<text x="202.00" y="509.60" font-size="7" fill="#4b1a6e" stroke="#4b1a6e" stroke-width="0.18" text-anchor="middle"  xml:space="preserve">****</text>
<text x="208.60" y="489.90" font-size="7" fill="#f5c070" text-anchor="middle"  xml:space="preserve">*</text>
<rect x="238.90" y="468.48" width="68.80" height="53.62" fill="#e1e1e3"/>
<path d="M247.70,511.43 L303.89,519.73" fill="none" stroke="#4b1a6e" stroke-width="1"/>
<path d="M247.70,511.43 L303.89,511.43" fill="none" stroke="#3aa8dc" stroke-width="1"/>
<path d="M247.70,508.47 L303.89,512.62" fill="none" stroke="#f29a1c" stroke-width="1"/>
<path d="M247.70,507.29 L303.89,507.29" fill="none" stroke="#c4123a" stroke-width="1"/>
<path d="M247.70,510.25V512.62M245.70,510.25h4M245.70,512.62h4" stroke="#4b1a6e" stroke-width="0.8" fill="none"/>
<circle cx="247.70" cy="511.43" r="2" fill="#4b1a6e"/>
<path d="M303.89,517.95V521.51M301.89,517.95h4M301.89,521.51h4" stroke="#4b1a6e" stroke-width="0.8" fill="none"/>
<circle cx="303.89" cy="519.73" r="2" fill="#4b1a6e"/>
<path d="M247.70,510.25V512.62M245.70,510.25h4M245.70,512.62h4" stroke="#3aa8dc" stroke-width="0.8" fill="none"/>
<circle cx="247.70" cy="511.43" r="2" fill="#3aa8dc"/>
<path d="M303.89,510.25V512.62M301.89,510.25h4M301.89,512.62h4" stroke="#3aa8dc" stroke-width="0.8" fill="none"/>
<circle cx="303.89" cy="511.43" r="2" fill="#3aa8dc"/>
<path d="M247.70,507.29V509.66M245.70,507.29h4M245.70,509.66h4" stroke="#f29a1c" stroke-width="0.8" fill="none"/>
<circle cx="247.70" cy="508.47" r="2" fill="#f29a1c"/>
<path d="M303.89,510.25V514.99M301.89,510.25h4M301.89,514.99h4" stroke="#f29a1c" stroke-width="0.8" fill="none"/>
<circle cx="303.89" cy="512.62" r="2" fill="#f29a1c"/>
<path d="M247.70,505.51V509.06M245.70,505.51h4M245.70,509.06h4" stroke="#c4123a" stroke-width="0.8" fill="none"/>
<circle cx="247.70" cy="507.29" r="2" fill="#c4123a"/>
<path d="M303.89,506.10V508.47M301.89,506.10h4M301.89,508.47h4" stroke="#c4123a" stroke-width="0.8" fill="none"/>
<circle cx="303.89" cy="507.29" r="2" fill="#c4123a"/>
<path d="M238.40,459.40V545.80H308.00" fill="none" stroke="#262626" stroke-width="1.05"/>
<text x="232.20" y="548.40" font-size="7.5" fill="#2e2e2e" stroke="#2e2e2e" stroke-width="0.18" text-anchor="end"  xml:space="preserve">40</text>
<text x="232.20" y="536.55" font-size="7.5" fill="#2e2e2e" stroke="#2e2e2e" stroke-width="0.18" text-anchor="end"  xml:space="preserve">42</text>
<text x="232.20" y="524.70" font-size="7.5" fill="#2e2e2e" stroke="#2e2e2e" stroke-width="0.18" text-anchor="end"  xml:space="preserve">44</text>
<text x="232.20" y="512.85" font-size="7.5" fill="#2e2e2e" stroke="#2e2e2e" stroke-width="0.18" text-anchor="end"  xml:space="preserve">46</text>
<text x="232.20" y="501.00" font-size="7.5" fill="#2e2e2e" stroke="#2e2e2e" stroke-width="0.18" text-anchor="end"  xml:space="preserve">48</text>
<text x="232.20" y="489.15" font-size="7.5" fill="#2e2e2e" stroke="#2e2e2e" stroke-width="0.18" text-anchor="end"  xml:space="preserve">50</text>
<text x="232.20" y="477.30" font-size="7.5" fill="#2e2e2e" stroke="#2e2e2e" stroke-width="0.18" text-anchor="end"  xml:space="preserve">52</text>
<text x="232.20" y="465.45" font-size="7.5" fill="#2e2e2e" stroke="#2e2e2e" stroke-width="0.18" text-anchor="end"  xml:space="preserve">54</text>
<text x="247.70" y="558.70" font-size="7.5" fill="#2e2e2e" stroke="#2e2e2e" stroke-width="0.18" text-anchor="middle"  xml:space="preserve">0</text>
<text x="266.43" y="558.70" font-size="7.5" fill="#2e2e2e" stroke="#2e2e2e" stroke-width="0.18" text-anchor="middle"  xml:space="preserve">2</text>
<text x="285.16" y="558.70" font-size="7.5" fill="#2e2e2e" stroke="#2e2e2e" stroke-width="0.18" text-anchor="middle"  xml:space="preserve">4</text>
<text x="303.89" y="558.70" font-size="7.5" fill="#2e2e2e" stroke="#2e2e2e" stroke-width="0.18" text-anchor="middle"  xml:space="preserve">6</text>
<path d="M235.40,545.80H238.4M235.40,533.95H238.4M235.40,522.10H238.4M235.40,510.25H238.4M235.40,498.40H238.4M235.40,486.55H238.4M235.40,474.70H238.4M235.40,462.85H238.4M247.70,545.80v3M266.43,545.80v3M285.16,545.80v3M303.89,545.80v3" stroke="#262626" stroke-width="0.9" fill="none"/>
<text x="256.00" y="454.70" font-size="8.5" fill="#2e2e2e" stroke="#2e2e2e" stroke-width="0.12" textLength="35.20" lengthAdjust="spacing"  xml:space="preserve">MCV (fL)</text>
<text x="304.00" y="528.90" font-size="7" fill="#4b1a6e" stroke="#4b1a6e" stroke-width="0.18" text-anchor="middle"  xml:space="preserve">**</text>
<rect x="337.50" y="482.95" width="69.40" height="38.76" fill="#e1e1e3"/>
<path d="M346.10,505.99 L402.29,513.33" fill="none" stroke="#4b1a6e" stroke-width="1"/>
<path d="M346.10,504.95 L402.29,510.18" fill="none" stroke="#3aa8dc" stroke-width="1"/>
<path d="M346.10,503.90 L402.29,507.04" fill="none" stroke="#f29a1c" stroke-width="1"/>
<path d="M346.10,502.85 L402.29,503.90" fill="none" stroke="#c4123a" stroke-width="1"/>
<path d="M346.10,504.95V507.04M344.10,504.95h4M344.10,507.04h4" stroke="#4b1a6e" stroke-width="0.8" fill="none"/>
<circle cx="346.10" cy="505.99" r="2" fill="#4b1a6e"/>
<path d="M402.29,511.76V514.90M400.29,511.76h4M400.29,514.90h4" stroke="#4b1a6e" stroke-width="0.8" fill="none"/>
<circle cx="402.29" cy="513.33" r="2" fill="#4b1a6e"/>
<path d="M346.10,503.90V505.99M344.10,503.90h4M344.10,505.99h4" stroke="#3aa8dc" stroke-width="0.8" fill="none"/>
<circle cx="346.10" cy="504.95" r="2" fill="#3aa8dc"/>
<path d="M402.29,509.14V511.23M400.29,509.14h4M400.29,511.23h4" stroke="#3aa8dc" stroke-width="0.8" fill="none"/>
<circle cx="402.29" cy="510.18" r="2" fill="#3aa8dc"/>
<path d="M346.10,502.85V504.95M344.10,502.85h4M344.10,504.95h4" stroke="#f29a1c" stroke-width="0.8" fill="none"/>
<circle cx="346.10" cy="503.90" r="2" fill="#f29a1c"/>
<path d="M402.29,505.47V508.61M400.29,505.47h4M400.29,508.61h4" stroke="#f29a1c" stroke-width="0.8" fill="none"/>
<circle cx="402.29" cy="507.04" r="2" fill="#f29a1c"/>
<path d="M346.10,501.80V503.90M344.10,501.80h4M344.10,503.90h4" stroke="#c4123a" stroke-width="0.8" fill="none"/>
<circle cx="346.10" cy="502.85" r="2" fill="#c4123a"/>
<path d="M402.29,502.85V504.95M400.29,502.85h4M400.29,504.95h4" stroke="#c4123a" stroke-width="0.8" fill="none"/>
<circle cx="402.29" cy="503.90" r="2" fill="#c4123a"/>
<path d="M337.00,459.75V545.80H406.50" fill="none" stroke="#262626" stroke-width="1.05"/>
<text x="330.80" y="548.40" font-size="7.5" fill="#2e2e2e" stroke="#2e2e2e" stroke-width="0.18" text-anchor="end"  xml:space="preserve">10</text>
<text x="330.80" y="527.45" font-size="7.5" fill="#2e2e2e" stroke="#2e2e2e" stroke-width="0.18" text-anchor="end"  xml:space="preserve">12</text>
<text x="330.80" y="506.50" font-size="7.5" fill="#2e2e2e" stroke="#2e2e2e" stroke-width="0.18" text-anchor="end"  xml:space="preserve">14</text>
<text x="330.80" y="485.55" font-size="7.5" fill="#2e2e2e" stroke="#2e2e2e" stroke-width="0.18" text-anchor="end"  xml:space="preserve">16</text>
<text x="330.80" y="464.60" font-size="7.5" fill="#2e2e2e" stroke="#2e2e2e" stroke-width="0.18" text-anchor="end"  xml:space="preserve">18</text>
<text x="346.10" y="558.70" font-size="7.5" fill="#2e2e2e" stroke="#2e2e2e" stroke-width="0.18" text-anchor="middle"  xml:space="preserve">0</text>
<text x="364.83" y="558.70" font-size="7.5" fill="#2e2e2e" stroke="#2e2e2e" stroke-width="0.18" text-anchor="middle"  xml:space="preserve">2</text>
<text x="383.56" y="558.70" font-size="7.5" fill="#2e2e2e" stroke="#2e2e2e" stroke-width="0.18" text-anchor="middle"  xml:space="preserve">4</text>
<text x="402.29" y="558.70" font-size="7.5" fill="#2e2e2e" stroke="#2e2e2e" stroke-width="0.18" text-anchor="middle"  xml:space="preserve">6</text>
<path d="M334.00,545.80H337.0M334.00,524.85H337.0M334.00,503.90H337.0M334.00,482.95H337.0M334.00,462.00H337.0M346.10,545.80v3M364.83,545.80v3M383.56,545.80v3M402.29,545.80v3" stroke="#262626" stroke-width="0.9" fill="none"/>
<text x="351.50" y="454.70" font-size="8.5" fill="#2e2e2e" stroke="#2e2e2e" stroke-width="0.12" textLength="40.00" lengthAdjust="spacing"  xml:space="preserve">MCH (pg)</text>
<text x="402.00" y="523.50" font-size="7" fill="#4b1a6e" stroke="#4b1a6e" stroke-width="0.18" text-anchor="middle"  xml:space="preserve">***</text>
<text x="64.30" y="308.60" font-size="8.4" fill="#2e2e2e" stroke="#2e2e2e" stroke-width="0.18" textLength="18.60" lengthAdjust="spacingAndGlyphs"  xml:space="preserve">Weeks</text>
<path d="M0,0.5H520M0.5,0V567" stroke="#686868" stroke-width="1"/>
<path d="M0,566.5H520M519.5,0V567" stroke="#474747" stroke-width="1"/>
</svg>
</body></html>
